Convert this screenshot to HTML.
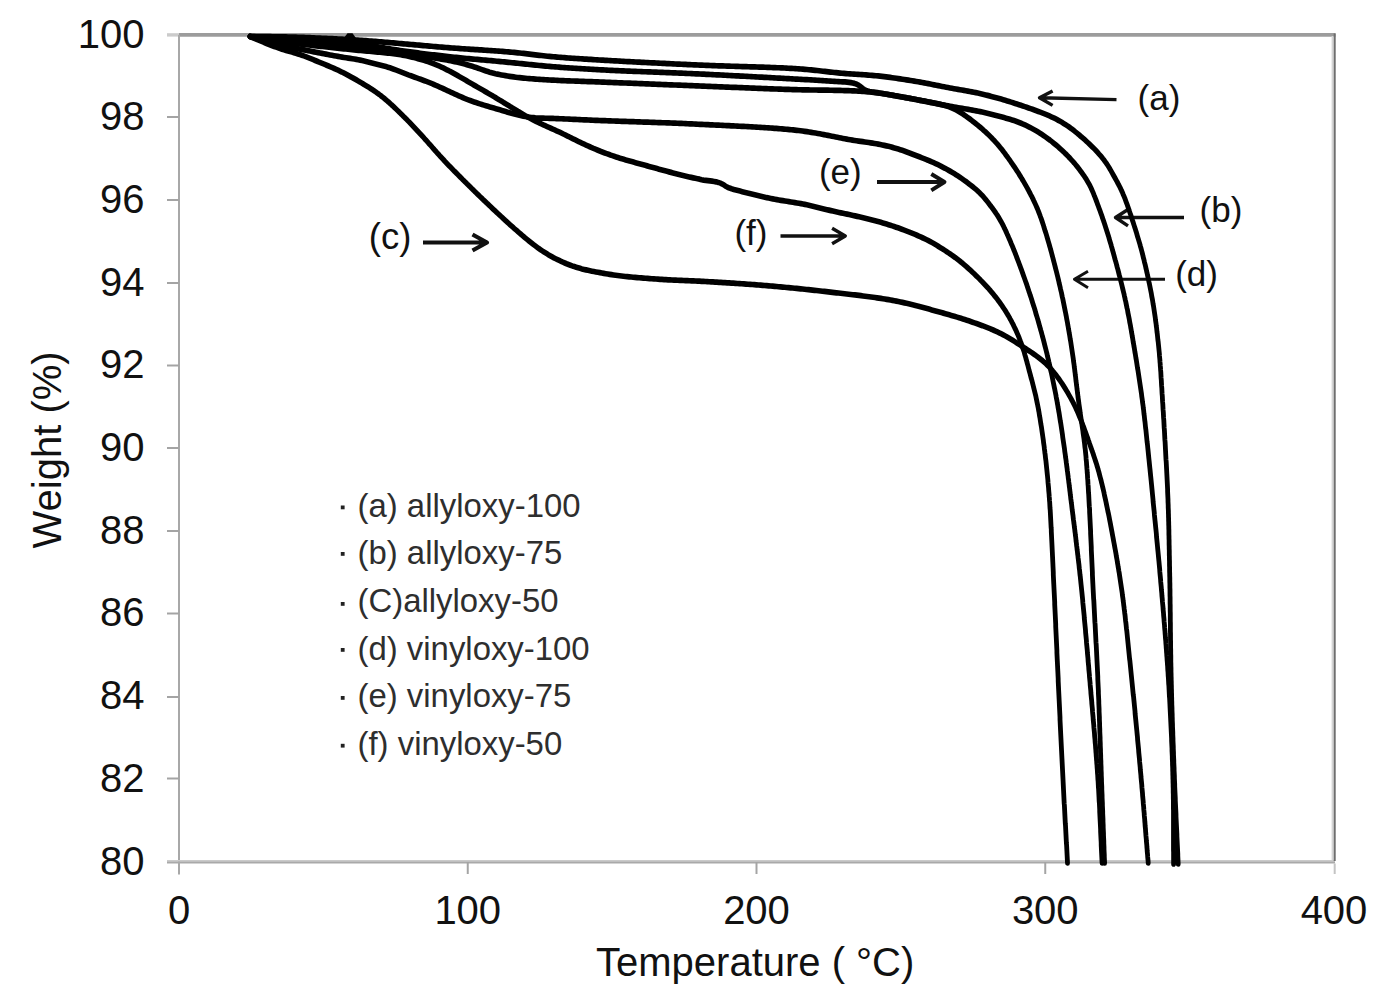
<!DOCTYPE html>
<html><head><meta charset="utf-8"><style>
html,body{margin:0;padding:0;background:#fff;width:1391px;height:1000px;overflow:hidden}
svg{position:absolute;left:0;top:0}
text{font-family:"Liberation Sans",sans-serif}
svg{fill:#111}
</style></head><body>
<svg width="1391" height="1000" viewBox="0 0 1391 1000">
<rect x="0" y="0" width="1391" height="1000" fill="#fff"/>
<!-- axes -->
<g fill="none">
<line x1="167" y1="34.9" x2="179" y2="34.9" stroke-width="3.4" stroke="#cbcbcb"/>
<line x1="179" y1="34.9" x2="1335.5" y2="34.9" stroke-width="3.6" stroke="#9c9c9c"/>
<line x1="179" y1="35" x2="179" y2="874.5" stroke-width="2" stroke="#a8a8a8"/>
<line x1="167" y1="860.8" x2="1335" y2="860.8" stroke-width="1.8" stroke="#cacaca"/>
<line x1="167" y1="862.6" x2="1335" y2="862.6" stroke-width="2" stroke="#a9a9a9"/>
<line x1="1332.6" y1="36" x2="1332.6" y2="860" stroke-width="2" stroke="#d4d4d4"/>
<line x1="1334.7" y1="33.5" x2="1334.7" y2="861" stroke-width="2" stroke="#6e6e6e"/>
<line x1="1334.7" y1="863.5" x2="1334.7" y2="874" stroke-width="2" stroke="#c4c4c4"/>
<g stroke-width="2" stroke="#a4a4a4">
<line x1="167" y1="117" x2="179" y2="117"/>
<line x1="167" y1="200" x2="179" y2="200"/>
<line x1="167" y1="283" x2="179" y2="283"/>
<line x1="167" y1="365.5" x2="179" y2="365.5"/>
<line x1="167" y1="448" x2="179" y2="448"/>
<line x1="167" y1="531" x2="179" y2="531"/>
<line x1="167" y1="613.5" x2="179" y2="613.5"/>
<line x1="167" y1="697" x2="179" y2="697"/>
<line x1="167" y1="778.5" x2="179" y2="778.5"/>
<line x1="467.75" y1="862" x2="467.75" y2="874"/>
<line x1="756.5" y1="862" x2="756.5" y2="874"/>
<line x1="1045.25" y1="862" x2="1045.25" y2="874"/>
</g>
</g>
<!-- y labels -->
<g font-size="40" text-anchor="end">
<text x="144.5" y="47.5">100</text>
<text x="144.5" y="130.2">98</text>
<text x="144.5" y="212.9">96</text>
<text x="144.5" y="295.6">94</text>
<text x="144.5" y="378.3">92</text>
<text x="144.5" y="461.0">90</text>
<text x="144.5" y="543.7">88</text>
<text x="144.5" y="626.4">86</text>
<text x="144.5" y="709.1">84</text>
<text x="144.5" y="791.8">82</text>
<text x="144.5" y="874.5">80</text>
</g>
<!-- x labels -->
<g font-size="40" text-anchor="middle">
<text x="179" y="923.5">0</text>
<text x="467.75" y="923.5">100</text>
<text x="756.5" y="923.5">200</text>
<text x="1045.25" y="923.5">300</text>
<text x="1334" y="923.5">400</text>
</g>
<text x="596" y="975.5" font-size="40">Temperature ( °C)</text>
<text transform="translate(60.8,548.5) rotate(-90)" font-size="40">Weight (%)</text>
<!-- legend -->
<g font-size="32.9" fill="#2e2e2e">
<text x="357.5" y="517">(a) allyloxy-100</text>
<text x="357.5" y="564">(b) allyloxy-75</text>
<text x="357.5" y="612">(C)allyloxy-50</text>
<text x="357.5" y="659.5">(d) vinyloxy-100</text>
<text x="357.5" y="707">(e) vinyloxy-75</text>
<text x="357.5" y="754.5">(f) vinyloxy-50</text>
</g>
<g fill="#222">
<rect x="340.8" y="505.5" width="3.8" height="3.8"/>
<rect x="340.8" y="552" width="3.8" height="3.8"/>
<rect x="340.8" y="602" width="3.8" height="3.8"/>
<rect x="340.8" y="648" width="3.8" height="3.8"/>
<rect x="340.8" y="696" width="3.8" height="3.8"/>
<rect x="340.8" y="743.8" width="3.8" height="3.8"/>
</g>
<!-- annotations -->
<g font-size="35">
<text x="1137.6" y="110.4">(a)</text>
<text x="1199.6" y="222.4">(b)</text>
<text x="368.8" y="248.8" font-size="36.5">(c)</text>
<text x="1175.2" y="286.4">(d)</text>
<text x="818.9" y="184.2">(e)</text>
<text x="734.4" y="244.6">(f)</text>
</g>
<g stroke="#111" stroke-width="3.4" fill="none" stroke-linecap="butt" stroke-linejoin="round">
<path d="M1116.5,99.6 L1040.5,97.8 M1052.6,91 L1039.5,97.8 L1052.6,105.4"/>
<path d="M1184,217.5 H1117 M1128,209.5 L1115.5,217.5 L1128,225.8"/>
<path d="M423,242.5 H485 M472.5,234.5 L487,242.5 L472.5,250.5" stroke-width="4.2"/>
<path d="M1165,279.3 H1076 M1088,271.2 L1074.4,279.3 L1088,287.8" stroke-width="2.9"/>
<path d="M877,182 H942.5 M931.3,174 L944.5,182 L931.3,190.3" stroke-width="3.9"/>
<path d="M780.5,236 H843.5 M832.1,228.3 L845.3,236 L832.1,243.8"/>
</g>
<!-- curves -->
<g stroke="#000" stroke-width="4.8" fill="none" stroke-linecap="round" stroke-linejoin="round" transform="scale(1,1.18)">
<path d="M250.0,30.93 L252.0,30.95 L254.1,30.96 L256.1,30.98 L258.2,30.99 L260.2,31.01 L262.3,31.02 L264.3,31.04 L266.3,31.05 L268.3,31.07 L270.3,31.09 L272.3,31.11 L274.3,31.13 L276.3,31.15 L278.2,31.17 L280.2,31.20 L282.2,31.23 L284.1,31.26 L286.1,31.30 L288.0,31.33 L290.0,31.37 L292.0,31.42 L293.9,31.46 L295.9,31.51 L297.9,31.56 L299.8,31.62 L301.8,31.68 L303.8,31.74 L305.8,31.81 L307.8,31.87 L309.9,31.94 L311.9,32.02 L314.0,32.09 L316.0,32.17 L318.1,32.25 L320.1,32.33 L322.2,32.40 L324.2,32.48 L326.2,32.56 L328.2,32.64 L330.2,32.72 L332.2,32.80 L334.2,32.88 L336.2,32.96 L338.2,33.04 L340.2,33.12 L342.2,33.21 L344.1,33.30 L346.1,33.39 L348.0,33.48 L350.0,33.58 L352.0,33.68 L353.9,33.78 L355.9,33.89 L357.8,34.00 L359.8,34.12 L361.8,34.24 L363.8,34.36 L365.8,34.48 L367.7,34.61 L369.7,34.73 L371.6,34.86 L373.6,34.99 L375.5,35.12 L377.4,35.25 L379.3,35.39 L381.3,35.52 L383.3,35.66 L385.2,35.80 L387.3,35.95 L389.3,36.09 L391.4,36.24 L393.4,36.39 L395.5,36.54 L397.5,36.69 L399.5,36.83 L401.5,36.98 L403.5,37.12 L405.4,37.26 L407.3,37.41 L409.2,37.55 L411.2,37.70 L413.1,37.84 L415.1,37.99 L417.1,38.14 L419.1,38.30 L421.2,38.45 L423.2,38.61 L425.3,38.76 L427.3,38.92 L429.4,39.07 L431.5,39.23 L433.6,39.38 L435.7,39.53 L437.7,39.68 L439.8,39.83 L441.9,39.98 L443.9,40.12 L446.0,40.26 L448.0,40.40 L450.0,40.54 L452.1,40.67 L454.2,40.80 L456.2,40.93 L458.3,41.06 L460.4,41.18 L462.5,41.30 L464.6,41.42 L466.8,41.54 L468.9,41.66 L471.0,41.78 L473.1,41.89 L475.2,42.00 L477.3,42.11 L479.4,42.22 L481.4,42.33 L483.5,42.44 L485.4,42.55 L487.4,42.66 L489.3,42.76 L491.2,42.87 L493.1,42.98 L494.9,43.09 L496.8,43.20 L498.7,43.32 L500.5,43.44 L502.5,43.57 L504.4,43.70 L506.3,43.84 L508.3,43.98 L510.2,44.13 L512.1,44.28 L514.1,44.43 L516.0,44.59 L517.9,44.76 L519.8,44.93 L521.7,45.10 L523.6,45.28 L525.5,45.47 L527.4,45.66 L529.4,45.86 L531.3,46.06 L533.3,46.26 L535.3,46.47 L537.3,46.67 L539.3,46.88 L541.4,47.08 L543.4,47.27 L545.5,47.46 L547.5,47.64 L549.5,47.81 L551.5,47.97 L553.4,48.12 L555.3,48.26 L557.1,48.39 L559.0,48.52 L560.8,48.65 L562.7,48.77 L564.5,48.89 L566.4,49.01 L568.4,49.13 L570.3,49.24 L572.2,49.36 L574.2,49.47 L576.2,49.59 L578.3,49.70 L580.3,49.81 L582.4,49.93 L584.5,50.04 L586.6,50.15 L588.8,50.27 L590.9,50.38 L593.1,50.49 L595.2,50.60 L597.3,50.71 L599.3,50.81 L601.3,50.91 L603.2,51.01 L605.0,51.10 L606.9,51.19 L608.7,51.28 L610.5,51.37 L612.3,51.46 L614.2,51.54 L616.0,51.63 L617.9,51.72 L619.8,51.81 L621.7,51.90 L623.6,51.99 L625.6,52.08 L627.5,52.17 L629.5,52.26 L631.5,52.35 L633.5,52.44 L635.5,52.53 L637.6,52.62 L639.6,52.71 L641.7,52.80 L643.7,52.89 L645.8,52.98 L647.9,53.07 L650.0,53.16 L652.1,53.25 L654.2,53.33 L656.3,53.42 L658.4,53.51 L660.5,53.60 L662.6,53.69 L664.7,53.77 L666.8,53.86 L668.9,53.95 L671.0,54.03 L673.1,54.12 L675.2,54.20 L677.3,54.29 L679.4,54.37 L681.5,54.45 L683.6,54.54 L685.7,54.62 L687.7,54.70 L689.8,54.78 L691.9,54.86 L693.9,54.93 L695.9,55.01 L698.0,55.09 L700.0,55.16 L702.0,55.24 L704.1,55.31 L706.1,55.38 L708.2,55.45 L710.3,55.52 L712.3,55.58 L714.4,55.65 L716.5,55.71 L718.6,55.77 L720.8,55.83 L722.9,55.89 L725.0,55.95 L727.1,56.01 L729.3,56.07 L731.4,56.12 L733.6,56.18 L735.7,56.23 L737.9,56.29 L740.0,56.34 L742.2,56.40 L744.3,56.45 L746.4,56.50 L748.5,56.56 L750.7,56.61 L752.8,56.67 L754.9,56.72 L757.0,56.78 L759.1,56.83 L761.1,56.89 L763.2,56.95 L765.2,57.01 L767.3,57.06 L769.3,57.12 L771.3,57.19 L773.2,57.25 L775.2,57.31 L777.1,57.38 L779.0,57.45 L780.9,57.51 L782.8,57.58 L784.6,57.66 L786.4,57.73 L788.2,57.81 L790.0,57.89 L791.7,57.97 L793.5,58.05 L795.3,58.15 L797.1,58.25 L798.9,58.36 L800.8,58.48 L802.8,58.61 L804.8,58.75 L806.9,58.91 L809.0,59.07 L811.1,59.24 L813.1,59.42 L815.2,59.60 L817.1,59.79 L819.1,59.97 L821.0,60.16 L822.9,60.35 L824.8,60.54 L826.7,60.72 L828.6,60.91 L830.5,61.09 L832.4,61.26 L834.3,61.43 L836.2,61.60 L838.1,61.76 L840.1,61.91 L842.0,62.06 L844.0,62.20 L846.0,62.33 L848.0,62.46 L850.0,62.58 L852.0,62.69 L854.0,62.80 L856.0,62.91 L858.0,63.02 L860.0,63.13 L862.0,63.25 L864.0,63.36 L866.0,63.48 L868.0,63.61 L870.0,63.74 L872.0,63.88 L874.0,64.03 L876.0,64.19 L878.0,64.36 L880.0,64.54 L882.0,64.74 L884.1,64.94 L886.1,65.15 L888.1,65.37 L890.2,65.60 L892.2,65.84 L894.2,66.08 L896.3,66.33 L898.3,66.59 L900.3,66.85 L902.4,67.11 L904.4,67.38 L906.4,67.65 L908.4,67.93 L910.4,68.20 L912.3,68.48 L914.3,68.76 L916.3,69.05 L918.2,69.34 L920.2,69.64 L922.2,69.94 L924.2,70.25 L926.2,70.57 L928.3,70.90 L930.3,71.23 L932.3,71.56 L934.2,71.90 L936.2,72.23 L938.2,72.57 L940.2,72.91 L942.1,73.24 L944.1,73.57 L946.1,73.90 L948.0,74.22 L950.0,74.54 L952.0,74.85 L953.9,75.15 L955.9,75.44 L957.9,75.74 L959.9,76.02 L961.8,76.31 L963.8,76.60 L965.8,76.89 L967.8,77.19 L969.8,77.51 L971.8,77.83 L973.8,78.17 L975.8,78.52 L977.8,78.88 L979.7,79.25 L981.7,79.63 L983.7,80.03 L985.6,80.43 L987.5,80.84 L989.5,81.26 L991.4,81.69 L993.3,82.13 L995.3,82.59 L997.3,83.05 L999.2,83.52 L1001.2,84.00 L1003.2,84.50 L1005.2,85.00 L1007.2,85.51 L1009.2,86.03 L1011.1,86.55 L1013.1,87.08 L1015.1,87.62 L1017.0,88.16 L1019.0,88.71 L1020.9,89.26 L1022.8,89.82 L1024.8,90.37 L1026.7,90.93 L1028.6,91.50 L1030.6,92.07 L1032.5,92.65 L1034.4,93.24 L1036.4,93.83 L1038.3,94.43 L1040.2,95.04 L1042.1,95.67 L1044.0,96.30 L1045.9,96.95 L1047.7,97.60 L1049.5,98.28 L1051.3,98.97 L1053.1,99.68 L1054.9,100.41 L1056.7,101.17 L1058.4,101.97 L1060.1,102.79 L1061.9,103.66 L1063.6,104.57 L1065.4,105.50 L1067.1,106.47 L1068.8,107.47 L1070.5,108.49 L1072.1,109.53 L1073.7,110.58 L1075.3,111.65 L1076.9,112.73 L1078.5,113.82 L1080.0,114.92 L1081.5,116.04 L1083.1,117.17 L1084.6,118.31 L1086.1,119.47 L1087.6,120.66 L1089.1,121.87 L1090.6,123.09 L1092.1,124.33 L1093.6,125.59 L1095.1,126.85 L1096.5,128.13 L1097.9,129.41 L1099.2,130.70 L1100.6,132.01 L1101.9,133.33 L1103.1,134.68 L1104.4,136.06 L1105.6,137.47 L1106.8,138.92 L1107.9,140.40 L1109.0,141.90 L1110.1,143.42 L1111.1,144.93 L1112.1,146.45 L1113.1,147.96 L1114.1,149.47 L1115.1,150.98 L1116.1,152.50 L1117.1,154.01 L1118.0,155.53 L1119.0,157.06 L1119.9,158.59 L1120.8,160.13 L1121.6,161.68 L1122.5,163.24 L1123.2,164.81 L1124.0,166.39 L1124.8,167.99 L1125.5,169.61 L1126.2,171.23 L1126.9,172.86 L1127.6,174.49 L1128.3,176.14 L1129.0,177.79 L1129.6,179.45 L1130.3,181.13 L1131.0,182.80 L1131.6,184.48 L1132.2,186.14 L1132.9,187.78 L1133.5,189.40 L1134.1,191.00 L1134.7,192.58 L1135.3,194.16 L1135.9,195.74 L1136.5,197.33 L1137.0,198.94 L1137.6,200.58 L1138.2,202.23 L1138.8,203.91 L1139.4,205.60 L1140.0,207.30 L1140.5,208.98 L1141.1,210.65 L1141.6,212.29 L1142.1,213.91 L1142.6,215.51 L1143.0,217.09 L1143.5,218.67 L1144.0,220.27 L1144.4,221.87 L1144.9,223.49 L1145.4,225.13 L1145.8,226.79 L1146.3,228.47 L1146.7,230.16 L1147.2,231.86 L1147.6,233.58 L1148.1,235.30 L1148.5,237.03 L1148.9,238.76 L1149.4,240.49 L1149.8,242.23 L1150.2,243.96 L1150.6,245.69 L1151.0,247.41 L1151.4,249.12 L1151.7,250.83 L1152.1,252.53 L1152.5,254.23 L1152.8,255.93 L1153.1,257.62 L1153.5,259.31 L1153.8,261.00 L1154.1,262.69 L1154.4,264.38 L1154.7,266.08 L1155.0,267.77 L1155.3,269.46 L1155.5,271.16 L1155.8,272.85 L1156.1,274.55 L1156.3,276.25 L1156.6,277.94 L1156.8,279.64 L1157.0,281.33 L1157.3,283.03 L1157.5,284.73 L1157.7,286.43 L1157.9,288.12 L1158.2,289.82 L1158.4,291.52 L1158.6,293.21 L1158.8,294.91 L1159.0,296.60 L1159.2,298.30 L1159.4,299.99 L1159.5,301.69 L1159.7,303.38 L1159.9,305.08 L1160.0,306.77 L1160.2,308.47 L1160.3,310.16 L1160.5,311.86 L1160.6,313.55 L1160.8,315.25 L1160.9,316.94 L1161.0,318.64 L1161.1,320.33 L1161.3,322.03 L1161.4,323.72 L1161.5,325.42 L1161.6,327.11 L1161.8,328.81 L1161.9,330.51 L1162.0,332.20 L1162.1,333.90 L1162.3,335.59 L1162.4,337.29 L1162.5,338.98 L1162.6,340.68 L1162.8,342.37 L1162.9,344.07 L1163.0,345.76 L1163.1,347.46 L1163.3,349.15 L1163.4,350.85 L1163.5,352.54 L1163.6,354.24 L1163.8,355.93 L1163.9,357.63 L1164.0,359.32 L1164.1,361.02 L1164.2,362.71 L1164.4,364.41 L1164.5,366.10 L1164.6,367.80 L1164.7,369.49 L1164.8,371.19 L1164.9,372.88 L1165.1,374.57 L1165.2,376.27 L1165.3,377.96 L1165.4,379.64 L1165.5,381.33 L1165.6,383.00 L1165.7,384.67 L1165.8,386.34 L1165.9,387.99 L1166.0,389.64 L1166.2,391.29 L1166.3,392.93 L1166.4,394.57 L1166.5,396.20 L1166.6,397.84 L1166.7,399.48 L1166.8,401.13 L1166.9,402.78 L1167.0,404.45 L1167.1,406.12 L1167.2,407.81 L1167.3,409.51 L1167.4,411.22 L1167.5,412.95 L1167.6,414.69 L1167.6,416.44 L1167.7,418.19 L1167.8,419.94 L1167.9,421.66 L1168.0,423.35 L1168.0,425.01 L1168.1,426.65 L1168.2,428.25 L1168.2,429.84 L1168.3,431.43 L1168.4,433.01 L1168.4,434.60 L1168.5,436.20 L1168.5,437.81 L1168.6,439.43 L1168.6,441.07 L1168.7,442.71 L1168.7,444.36 L1168.8,446.02 L1168.8,447.70 L1168.9,449.38 L1168.9,451.07 L1168.9,452.77 L1169.0,454.48 L1169.0,456.19 L1169.1,457.92 L1169.1,459.65 L1169.1,461.38 L1169.2,463.13 L1169.2,464.87 L1169.3,466.63 L1169.3,468.39 L1169.3,470.15 L1169.4,471.92 L1169.4,473.69 L1169.5,475.46 L1169.5,477.24 L1169.5,479.02 L1169.6,480.80 L1169.6,482.58 L1169.6,484.35 L1169.7,486.12 L1169.7,487.87 L1169.8,489.60 L1169.8,491.32 L1169.8,493.01 L1169.9,494.68 L1169.9,496.34 L1169.9,497.99 L1170.0,499.63 L1170.0,501.28 L1170.0,502.93 L1170.0,504.58 L1170.1,506.23 L1170.1,507.89 L1170.1,509.56 L1170.1,511.23 L1170.2,512.91 L1170.2,514.59 L1170.2,516.27 L1170.2,517.96 L1170.3,519.66 L1170.3,521.35 L1170.3,523.05 L1170.3,524.76 L1170.3,526.46 L1170.4,528.17 L1170.4,529.89 L1170.4,531.60 L1170.4,533.32 L1170.4,535.04 L1170.5,536.76 L1170.5,538.48 L1170.5,540.20 L1170.5,541.92 L1170.6,543.65 L1170.6,545.37 L1170.6,547.10 L1170.6,548.82 L1170.7,550.55 L1170.7,552.27 L1170.7,554.00 L1170.8,555.72 L1170.8,557.44 L1170.8,559.17 L1170.8,560.88 L1170.9,562.60 L1170.9,564.32 L1171.0,566.03 L1171.0,567.74 L1171.0,569.45 L1171.1,571.16 L1171.1,572.86 L1171.2,574.57 L1171.2,576.27 L1171.3,577.97 L1171.3,579.67 L1171.4,581.38 L1171.4,583.08 L1171.5,584.79 L1171.5,586.50 L1171.6,588.21 L1171.6,589.92 L1171.7,591.63 L1171.7,593.35 L1171.8,595.06 L1171.8,596.78 L1171.9,598.49 L1172.0,600.21 L1172.0,601.93 L1172.1,603.65 L1172.2,605.37 L1172.2,607.09 L1172.3,608.81 L1172.3,610.52 L1172.4,612.24 L1172.5,613.96 L1172.5,615.67 L1172.6,617.39 L1172.7,619.10 L1172.8,620.81 L1172.8,622.52 L1172.9,624.23 L1173.0,625.94 L1173.0,627.64 L1173.1,629.34 L1173.2,631.04 L1173.3,632.74 L1173.3,634.43 L1173.4,636.12 L1173.5,637.81 L1173.5,639.49 L1173.6,641.17 L1173.7,642.85 L1173.8,644.52 L1173.8,646.19 L1173.9,647.86 L1174.0,649.52 L1174.1,651.17 L1174.1,652.83 L1174.2,654.48 L1174.3,656.14 L1174.4,657.80 L1174.4,659.48 L1174.5,661.17 L1174.6,662.87 L1174.7,664.58 L1174.7,666.30 L1174.8,668.03 L1174.9,669.76 L1175.0,671.49 L1175.1,673.22 L1175.2,674.94 L1175.3,676.66 L1175.3,678.38 L1175.4,680.09 L1175.5,681.79 L1175.6,683.49 L1175.7,685.19 L1175.8,686.89 L1175.9,688.58 L1176.0,690.26 L1176.0,691.95 L1176.1,693.63 L1176.2,695.31 L1176.3,696.99 L1176.4,698.67 L1176.5,700.34 L1176.6,702.02 L1176.7,703.69 L1176.8,705.36 L1176.9,707.03 L1176.9,708.70 L1177.0,710.38 L1177.1,712.05 L1177.2,713.72 L1177.3,715.39 L1177.4,717.07 L1177.5,718.74 L1177.6,720.42 L1177.7,722.10 L1177.8,723.78 L1177.8,725.46 L1177.9,727.14 L1178.0,728.83 L1178.1,730.52 L1178.2,732.20"/>
<path d="M250.0,30.93 L252.0,31.01 L254.1,31.10 L256.1,31.18 L258.2,31.26 L260.2,31.34 L262.3,31.43 L264.3,31.51 L266.3,31.59 L268.3,31.68 L270.3,31.77 L272.3,31.86 L274.3,31.95 L276.2,32.04 L278.2,32.14 L280.1,32.25 L282.1,32.35 L284.0,32.47 L285.9,32.58 L287.8,32.70 L289.8,32.82 L291.7,32.94 L293.6,33.06 L295.6,33.18 L297.5,33.29 L299.4,33.40 L301.3,33.50 L303.2,33.60 L305.0,33.69 L306.9,33.78 L308.8,33.86 L310.7,33.94 L312.6,34.02 L314.6,34.10 L316.5,34.18 L318.6,34.26 L320.6,34.34 L322.7,34.42 L324.8,34.51 L326.9,34.60 L329.0,34.70 L331.1,34.80 L333.2,34.91 L335.3,35.03 L337.5,35.15 L339.6,35.28 L341.7,35.43 L343.8,35.58 L345.8,35.74 L347.9,35.91 L349.9,36.09 L352.0,36.29 L354.0,36.50 L356.0,36.71 L358.0,36.94 L360.0,37.19 L362.0,37.44 L364.0,37.70 L366.0,37.96 L368.0,38.24 L370.0,38.52 L372.0,38.80 L374.0,39.09 L375.9,39.39 L377.9,39.68 L379.9,39.98 L381.9,40.27 L383.9,40.56 L385.9,40.86 L387.9,41.14 L389.9,41.43 L391.9,41.70 L394.0,41.98 L396.0,42.24 L398.0,42.50 L400.0,42.76 L402.0,43.00 L404.0,43.25 L406.0,43.49 L408.0,43.72 L410.0,43.95 L412.0,44.18 L414.0,44.41 L416.0,44.63 L418.0,44.86 L420.0,45.08 L422.0,45.29 L424.0,45.51 L426.0,45.72 L428.1,45.93 L430.1,46.14 L432.1,46.35 L434.1,46.56 L436.1,46.76 L438.1,46.96 L440.1,47.16 L442.1,47.35 L444.1,47.54 L446.1,47.74 L448.1,47.93 L450.1,48.11 L452.2,48.30 L454.2,48.48 L456.3,48.67 L458.3,48.85 L460.4,49.03 L462.5,49.20 L464.6,49.38 L466.8,49.55 L468.9,49.72 L471.0,49.89 L473.1,50.05 L475.2,50.22 L477.3,50.38 L479.4,50.53 L481.4,50.69 L483.4,50.84 L485.4,50.99 L487.3,51.14 L489.3,51.29 L491.2,51.43 L493.1,51.58 L494.9,51.73 L496.8,51.87 L498.7,52.03 L500.6,52.18 L502.5,52.33 L504.4,52.49 L506.3,52.65 L508.3,52.82 L510.2,52.98 L512.1,53.14 L514.1,53.31 L516.0,53.47 L517.9,53.64 L519.8,53.80 L521.7,53.97 L523.6,54.14 L525.5,54.31 L527.5,54.47 L529.4,54.65 L531.3,54.82 L533.3,54.99 L535.3,55.16 L537.3,55.33 L539.3,55.50 L541.4,55.67 L543.4,55.83 L545.5,55.99 L547.5,56.14 L549.5,56.29 L551.4,56.43 L553.3,56.57 L555.2,56.70 L557.1,56.82 L559.0,56.94 L560.8,57.06 L562.7,57.18 L564.6,57.29 L566.5,57.41 L568.4,57.52 L570.3,57.63 L572.3,57.74 L574.3,57.85 L576.3,57.96 L578.3,58.07 L580.4,58.18 L582.4,58.29 L584.5,58.40 L586.7,58.51 L588.8,58.61 L590.9,58.72 L593.1,58.82 L595.1,58.92 L597.2,59.01 L599.2,59.11 L601.2,59.20 L603.1,59.28 L605.0,59.36 L606.8,59.44 L608.7,59.52 L610.5,59.59 L612.3,59.66 L614.2,59.73 L616.0,59.81 L617.9,59.88 L619.8,59.95 L621.7,60.02 L623.7,60.09 L625.6,60.15 L627.6,60.22 L629.5,60.29 L631.5,60.36 L633.5,60.43 L635.6,60.50 L637.6,60.56 L639.6,60.63 L641.7,60.70 L643.7,60.77 L645.8,60.84 L647.9,60.90 L650.0,60.97 L652.1,61.04 L654.2,61.11 L656.3,61.18 L658.4,61.24 L660.5,61.31 L662.6,61.38 L664.7,61.45 L666.8,61.52 L668.9,61.59 L671.0,61.66 L673.1,61.73 L675.2,61.81 L677.3,61.88 L679.4,61.95 L681.5,62.02 L683.6,62.10 L685.7,62.17 L687.7,62.25 L689.8,62.32 L691.8,62.40 L693.9,62.48 L695.9,62.56 L698.0,62.64 L700.0,62.72 L702.1,62.80 L704.1,62.88 L706.2,62.97 L708.3,63.05 L710.4,63.14 L712.5,63.23 L714.6,63.32 L716.7,63.41 L718.8,63.50 L721.0,63.59 L723.2,63.68 L725.3,63.78 L727.5,63.87 L729.7,63.97 L731.9,64.06 L734.0,64.16 L736.2,64.26 L738.4,64.35 L740.6,64.45 L742.8,64.55 L745.0,64.65 L747.1,64.74 L749.3,64.84 L751.4,64.94 L753.6,65.04 L755.7,65.13 L757.8,65.23 L759.9,65.33 L762.0,65.42 L764.1,65.52 L766.1,65.61 L768.2,65.71 L770.2,65.80 L772.2,65.89 L774.1,65.98 L776.1,66.07 L778.0,66.16 L779.9,66.25 L781.7,66.34 L783.5,66.42 L785.3,66.51 L787.1,66.59 L788.8,66.67 L790.5,66.75 L792.2,66.83 L794.0,66.92 L795.7,67.00 L797.4,67.08 L799.3,67.16 L801.1,67.25 L803.1,67.34 L805.0,67.43 L807.0,67.53 L809.0,67.62 L811.1,67.72 L813.1,67.81 L815.0,67.90 L817.0,68.00 L818.9,68.10 L820.8,68.20 L822.7,68.30 L824.6,68.40 L826.5,68.50 L828.4,68.61 L830.4,68.72 L832.4,68.83 L834.4,68.94 L836.5,69.05 L838.6,69.17 L840.6,69.30 L842.7,69.44 L845.0,69.44 L847.0,69.59 L849.0,69.77 L850.9,70.00 L852.7,70.29 L854.4,70.66 L856.1,71.18 L857.9,71.91 L859.6,72.84 L861.2,73.87 L862.7,74.89 L864.3,75.82 L866.0,76.57 L867.8,77.13 L869.6,77.52 L871.4,77.81 L873.4,78.04 L875.5,78.27 L877.6,78.51 L879.4,78.78 L881.3,79.06 L883.2,79.34 L885.1,79.62 L887.0,79.90 L889.0,80.19 L891.0,80.49 L893.0,80.80 L895.0,81.11 L897.1,81.42 L899.2,81.75 L901.3,82.07 L903.4,82.40 L905.6,82.73 L907.7,83.06 L909.8,83.39 L911.9,83.72 L914.0,84.05 L916.0,84.38 L918.1,84.71 L920.1,85.04 L922.2,85.38 L924.2,85.71 L926.2,86.05 L928.2,86.39 L930.2,86.74 L932.2,87.08 L934.2,87.42 L936.2,87.76 L938.2,88.10 L940.2,88.43 L942.1,88.76 L944.1,89.09 L946.1,89.41 L948.1,89.73 L950.1,90.05 L952.1,90.36 L954.1,90.67 L956.2,90.97 L958.2,91.26 L960.2,91.56 L962.3,91.85 L964.3,92.14 L966.3,92.43 L968.3,92.72 L970.3,93.02 L972.3,93.32 L974.3,93.63 L976.3,93.95 L978.3,94.28 L980.3,94.63 L982.2,94.99 L984.2,95.37 L986.2,95.76 L988.2,96.16 L990.2,96.57 L992.2,96.99 L994.1,97.42 L996.1,97.86 L998.1,98.30 L1000.1,98.75 L1002.1,99.21 L1004.0,99.67 L1006.0,100.14 L1008.0,100.63 L1010.0,101.13 L1012.0,101.66 L1014.0,102.20 L1016.0,102.78 L1017.9,103.38 L1019.8,104.02 L1021.8,104.69 L1023.7,105.39 L1025.5,106.12 L1027.4,106.88 L1029.3,107.67 L1031.1,108.49 L1032.9,109.32 L1034.7,110.18 L1036.5,111.06 L1038.2,111.96 L1040.0,112.89 L1041.7,113.83 L1043.4,114.79 L1045.1,115.78 L1046.8,116.79 L1048.4,117.82 L1050.1,118.86 L1051.7,119.93 L1053.3,121.02 L1054.9,122.13 L1056.5,123.25 L1058.1,124.39 L1059.6,125.55 L1061.1,126.73 L1062.7,127.92 L1064.2,129.12 L1065.6,130.34 L1067.1,131.57 L1068.5,132.82 L1070.0,134.09 L1071.3,135.37 L1072.7,136.67 L1074.1,137.98 L1075.4,139.31 L1076.7,140.65 L1078.0,142.01 L1079.2,143.37 L1080.4,144.74 L1081.6,146.13 L1082.8,147.52 L1084.0,148.93 L1085.1,150.35 L1086.2,151.78 L1087.2,153.23 L1088.2,154.69 L1089.2,156.18 L1090.1,157.67 L1091.0,159.19 L1091.8,160.72 L1092.6,162.26 L1093.4,163.82 L1094.1,165.39 L1094.9,166.97 L1095.6,168.55 L1096.3,170.14 L1097.0,171.72 L1097.7,173.32 L1098.4,174.91 L1099.1,176.52 L1099.8,178.13 L1100.5,179.76 L1101.2,181.39 L1101.9,183.03 L1102.5,184.66 L1103.2,186.29 L1103.8,187.91 L1104.5,189.52 L1105.1,191.12 L1105.7,192.71 L1106.3,194.30 L1106.9,195.89 L1107.5,197.49 L1108.1,199.10 L1108.7,200.72 L1109.2,202.36 L1109.8,204.01 L1110.4,205.67 L1111.0,207.34 L1111.5,209.00 L1112.1,210.65 L1112.6,212.28 L1113.2,213.90 L1113.7,215.50 L1114.2,217.10 L1114.7,218.69 L1115.2,220.29 L1115.8,221.90 L1116.3,223.53 L1116.8,225.17 L1117.3,226.83 L1117.9,228.50 L1118.4,230.19 L1118.9,231.89 L1119.4,233.60 L1120.0,235.32 L1120.5,237.04 L1121.0,238.77 L1121.5,240.50 L1122.0,242.23 L1122.5,243.95 L1123.0,245.68 L1123.5,247.40 L1124.0,249.11 L1124.4,250.82 L1124.9,252.53 L1125.3,254.23 L1125.8,255.92 L1126.2,257.62 L1126.6,259.31 L1127.0,261.00 L1127.5,262.69 L1127.8,264.39 L1128.2,266.08 L1128.6,267.77 L1129.0,269.47 L1129.4,271.16 L1129.7,272.86 L1130.1,274.55 L1130.5,276.25 L1130.8,277.94 L1131.2,279.64 L1131.5,281.34 L1131.9,283.03 L1132.2,284.73 L1132.6,286.43 L1132.9,288.12 L1133.2,289.82 L1133.6,291.52 L1133.9,293.21 L1134.3,294.91 L1134.6,296.60 L1134.9,298.30 L1135.3,299.99 L1135.6,301.69 L1135.9,303.38 L1136.3,305.08 L1136.6,306.77 L1136.9,308.46 L1137.2,310.16 L1137.5,311.85 L1137.9,313.55 L1138.2,315.24 L1138.5,316.94 L1138.8,318.63 L1139.1,320.33 L1139.4,322.02 L1139.7,323.72 L1140.0,325.41 L1140.3,327.11 L1140.6,328.80 L1140.9,330.50 L1141.2,332.20 L1141.5,333.89 L1141.7,335.59 L1142.0,337.28 L1142.3,338.98 L1142.5,340.67 L1142.8,342.37 L1143.1,344.06 L1143.3,345.76 L1143.6,347.45 L1143.8,349.15 L1144.0,350.84 L1144.3,352.53 L1144.5,354.23 L1144.7,355.92 L1145.0,357.62 L1145.2,359.31 L1145.4,361.01 L1145.6,362.70 L1145.9,364.40 L1146.1,366.10 L1146.3,367.79 L1146.5,369.49 L1146.7,371.18 L1146.9,372.88 L1147.1,374.57 L1147.4,376.26 L1147.6,377.95 L1147.8,379.64 L1148.0,381.32 L1148.2,382.99 L1148.4,384.66 L1148.6,386.33 L1148.8,387.98 L1149.0,389.63 L1149.2,391.28 L1149.4,392.92 L1149.6,394.56 L1149.8,396.20 L1150.0,397.85 L1150.2,399.49 L1150.4,401.14 L1150.6,402.80 L1150.8,404.46 L1151.0,406.14 L1151.2,407.83 L1151.4,409.53 L1151.6,411.24 L1151.8,412.97 L1152.0,414.70 L1152.2,416.44 L1152.4,418.18 L1152.6,419.91 L1152.8,421.62 L1153.0,423.31 L1153.1,424.97 L1153.3,426.61 L1153.5,428.23 L1153.7,429.83 L1153.9,431.43 L1154.1,433.02 L1154.3,434.62 L1154.4,436.22 L1154.6,437.83 L1154.8,439.45 L1155.0,441.08 L1155.2,442.72 L1155.4,444.38 L1155.6,446.04 L1155.8,447.71 L1156.0,449.39 L1156.2,451.08 L1156.4,452.78 L1156.5,454.49 L1156.7,456.20 L1156.9,457.93 L1157.1,459.65 L1157.3,461.39 L1157.5,463.13 L1157.7,464.88 L1157.9,466.63 L1158.1,468.39 L1158.3,470.15 L1158.5,471.92 L1158.7,473.69 L1158.9,475.46 L1159.1,477.24 L1159.3,479.02 L1159.5,480.79 L1159.7,482.57 L1159.8,484.33 L1160.0,486.09 L1160.2,487.84 L1160.4,489.57 L1160.6,491.28 L1160.7,492.98 L1160.9,494.66 L1161.1,496.32 L1161.3,497.98 L1161.4,499.63 L1161.6,501.28 L1161.8,502.93 L1161.9,504.58 L1162.1,506.24 L1162.3,507.90 L1162.4,509.56 L1162.6,511.23 L1162.8,512.91 L1163.0,514.59 L1163.1,516.27 L1163.3,517.96 L1163.5,519.65 L1163.6,521.35 L1163.8,523.05 L1164.0,524.75 L1164.1,526.46 L1164.3,528.17 L1164.5,529.88 L1164.6,531.59 L1164.8,533.31 L1165.0,535.03 L1165.1,536.75 L1165.3,538.47 L1165.4,540.19 L1165.6,541.92 L1165.8,543.64 L1165.9,545.36 L1166.1,547.09 L1166.2,548.81 L1166.4,550.54 L1166.5,552.26 L1166.7,553.99 L1166.8,555.71 L1167.0,557.43 L1167.1,559.16 L1167.3,560.88 L1167.4,562.59 L1167.6,564.31 L1167.7,566.02 L1167.8,567.74 L1168.0,569.45 L1168.1,571.15 L1168.2,572.86 L1168.4,574.56 L1168.5,576.27 L1168.6,577.97 L1168.7,579.67 L1168.9,581.38 L1169.0,583.08 L1169.1,584.79 L1169.2,586.49 L1169.3,588.20 L1169.4,589.91 L1169.6,591.63 L1169.7,593.34 L1169.8,595.05 L1169.9,596.77 L1170.0,598.49 L1170.1,600.20 L1170.2,601.92 L1170.3,603.64 L1170.4,605.36 L1170.5,607.08 L1170.6,608.79 L1170.7,610.51 L1170.8,612.23 L1170.9,613.95 L1171.0,615.66 L1171.1,617.38 L1171.2,619.09 L1171.3,620.80 L1171.4,622.51 L1171.5,624.22 L1171.6,625.92 L1171.6,627.63 L1171.7,629.33 L1171.8,631.03 L1171.9,632.73 L1172.0,634.42 L1172.0,636.11 L1172.1,637.80 L1172.2,639.48 L1172.3,641.16 L1172.3,642.84 L1172.4,644.51 L1172.5,646.18 L1172.5,647.85 L1172.6,649.51 L1172.7,651.17 L1172.7,652.83 L1172.8,654.49 L1172.8,656.15 L1172.9,657.82 L1172.9,659.50 L1173.0,661.18 L1173.0,662.88 L1173.1,664.59 L1173.1,666.31 L1173.2,668.03 L1173.2,669.76 L1173.2,671.49 L1173.3,673.21 L1173.3,674.93 L1173.3,676.65 L1173.4,678.37 L1173.4,680.08 L1173.4,681.78 L1173.4,683.48 L1173.4,685.18 L1173.5,686.88 L1173.5,688.57 L1173.5,690.26 L1173.5,691.94 L1173.5,693.62 L1173.5,695.31 L1173.5,696.98 L1173.5,698.66 L1173.5,700.34 L1173.5,702.01 L1173.5,703.69 L1173.5,705.36 L1173.5,707.03 L1173.5,708.70 L1173.5,710.37 L1173.5,712.05 L1173.5,713.72 L1173.5,715.39 L1173.5,717.07 L1173.5,718.74 L1173.5,720.42 L1173.6,722.10 L1173.6,723.78 L1173.6,725.46 L1173.6,727.15 L1173.6,728.83 L1173.6,730.52 L1173.6,732.20"/>
<path d="M250.0,30.93 L252.0,31.11 L254.1,31.28 L256.1,31.45 L258.2,31.62 L260.2,31.80 L262.3,31.97 L264.3,32.14 L266.3,32.32 L268.3,32.49 L270.3,32.66 L272.3,32.82 L274.3,32.99 L276.3,33.16 L278.2,33.32 L280.1,33.49 L282.1,33.65 L284.0,33.82 L285.9,33.98 L287.8,34.15 L289.8,34.31 L291.7,34.47 L293.6,34.64 L295.6,34.80 L297.5,34.96 L299.4,35.11 L301.3,35.26 L303.2,35.40 L305.0,35.54 L306.9,35.68 L308.7,35.81 L310.6,35.95 L312.5,36.09 L314.5,36.22 L316.5,36.36 L318.5,36.50 L320.6,36.65 L322.6,36.80 L324.7,36.95 L326.8,37.10 L329.0,37.25 L331.1,37.41 L333.2,37.57 L335.3,37.74 L337.5,37.91 L339.6,38.08 L341.7,38.26 L343.8,38.44 L345.8,38.62 L347.9,38.81 L349.9,39.00 L352.0,39.20 L354.0,39.41 L356.0,39.61 L358.0,39.83 L360.0,40.04 L362.0,40.26 L364.0,40.49 L366.0,40.72 L368.0,40.95 L370.0,41.18 L372.0,41.42 L374.0,41.66 L376.0,41.91 L377.9,42.15 L379.9,42.40 L381.9,42.65 L383.9,42.90 L385.9,43.15 L387.9,43.40 L390.0,43.65 L392.0,43.90 L394.0,44.16 L396.0,44.41 L398.0,44.66 L400.0,44.91 L402.1,45.16 L404.1,45.41 L406.2,45.66 L408.2,45.91 L410.3,46.16 L412.4,46.41 L414.5,46.67 L416.6,46.92 L418.8,47.18 L420.9,47.43 L423.0,47.69 L425.1,47.95 L427.2,48.21 L429.3,48.47 L431.3,48.73 L433.4,48.99 L435.4,49.26 L437.4,49.52 L439.3,49.79 L441.3,50.06 L443.2,50.34 L445.0,50.62 L446.9,50.91 L448.8,51.21 L450.7,51.53 L452.6,51.88 L454.6,52.24 L456.6,52.62 L458.7,53.02 L460.7,53.44 L462.7,53.87 L464.7,54.31 L466.7,54.76 L468.6,55.22 L470.5,55.70 L472.4,56.19 L474.3,56.71 L476.2,57.25 L478.1,57.82 L480.0,58.40 L482.0,58.98 L483.9,59.56 L485.9,60.13 L487.8,60.67 L489.7,61.17 L491.7,61.64 L493.6,62.07 L495.5,62.47 L497.5,62.84 L499.4,63.19 L501.4,63.52 L503.4,63.83 L505.5,64.13 L507.5,64.42 L509.6,64.69 L511.7,64.95 L513.7,65.19 L515.7,65.42 L517.7,65.63 L519.7,65.83 L521.6,66.01 L523.6,66.19 L525.5,66.35 L527.5,66.49 L529.4,66.64 L531.4,66.77 L533.4,66.90 L535.4,67.02 L537.4,67.13 L539.5,67.25 L541.5,67.36 L543.6,67.47 L545.6,67.57 L547.6,67.67 L549.7,67.77 L551.7,67.86 L553.6,67.95 L555.6,68.04 L557.5,68.12 L559.5,68.20 L561.4,68.27 L563.4,68.35 L565.4,68.42 L567.4,68.49 L569.4,68.55 L571.4,68.62 L573.4,68.68 L575.5,68.74 L577.5,68.81 L579.6,68.87 L581.6,68.93 L583.7,68.99 L585.7,69.05 L587.8,69.11 L589.8,69.17 L591.9,69.24 L593.9,69.30 L595.9,69.36 L598.0,69.43 L600.0,69.49 L602.0,69.56 L604.0,69.63 L606.0,69.70 L608.0,69.76 L610.0,69.83 L612.0,69.90 L614.0,69.97 L616.0,70.03 L618.0,70.10 L620.0,70.17 L622.0,70.24 L624.0,70.31 L626.0,70.37 L628.0,70.44 L630.0,70.51 L632.0,70.58 L634.0,70.64 L636.0,70.71 L638.0,70.78 L640.0,70.85 L642.0,70.92 L644.0,70.98 L646.0,71.05 L648.0,71.12 L650.0,71.19 L652.0,71.25 L654.0,71.32 L656.0,71.39 L658.0,71.46 L660.0,71.53 L662.0,71.59 L664.0,71.66 L666.0,71.73 L668.0,71.80 L670.0,71.86 L672.0,71.93 L674.0,72.00 L676.0,72.07 L678.0,72.14 L680.0,72.20 L682.0,72.27 L684.0,72.34 L686.0,72.41 L688.0,72.47 L690.0,72.54 L692.0,72.61 L694.0,72.68 L696.0,72.75 L698.0,72.81 L700.0,72.88 L702.0,72.95 L704.0,73.02 L706.0,73.09 L708.0,73.15 L710.0,73.22 L712.0,73.29 L714.0,73.36 L716.0,73.43 L718.0,73.50 L720.0,73.57 L722.0,73.64 L724.0,73.70 L726.0,73.77 L728.0,73.84 L730.0,73.91 L732.0,73.98 L734.0,74.05 L736.0,74.11 L738.0,74.18 L740.0,74.25 L742.0,74.31 L744.0,74.38 L746.0,74.45 L748.0,74.51 L750.0,74.58 L752.1,74.64 L754.1,74.71 L756.1,74.78 L758.2,74.85 L760.2,74.91 L762.3,74.98 L764.4,75.05 L766.4,75.12 L768.5,75.19 L770.6,75.25 L772.7,75.32 L774.7,75.39 L776.8,75.45 L778.8,75.52 L780.8,75.58 L782.9,75.64 L784.8,75.70 L786.8,75.76 L788.8,75.81 L790.7,75.87 L792.6,75.92 L794.6,75.96 L796.5,76.01 L798.4,76.05 L800.4,76.09 L802.4,76.13 L804.4,76.16 L806.4,76.19 L808.4,76.21 L810.4,76.24 L812.4,76.26 L814.4,76.27 L816.4,76.29 L818.3,76.31 L820.3,76.33 L822.2,76.35 L824.2,76.37 L826.1,76.39 L828.1,76.42 L830.1,76.45 L832.1,76.49 L834.1,76.52 L836.1,76.56 L838.2,76.60 L840.2,76.65 L842.3,76.69 L844.3,76.74 L846.3,76.79 L848.4,76.85 L850.4,76.91 L852.3,76.98 L854.3,77.06 L856.3,77.14 L858.2,77.24 L860.2,77.34 L862.1,77.45 L864.1,77.58 L866.0,77.71 L867.9,77.85 L869.9,78.01 L871.8,78.18 L873.8,78.37 L875.7,78.56 L877.7,78.77 L879.6,78.99 L881.6,79.22 L883.5,79.46 L885.4,79.71 L887.4,79.97 L889.4,80.24 L891.3,80.52 L893.4,80.81 L895.4,81.11 L897.5,81.42 L899.6,81.73 L901.7,82.05 L903.7,82.38 L905.8,82.71 L907.9,83.04 L910.0,83.37 L912.1,83.70 L914.1,84.03 L916.2,84.36 L918.2,84.70 L920.3,85.03 L922.4,85.37 L924.5,85.71 L926.6,86.05 L928.7,86.40 L930.9,86.74 L933.0,87.09 L935.1,87.45 L937.1,87.81 L939.2,88.18 L941.1,88.56 L943.0,88.96 L944.9,89.39 L946.7,89.86 L948.5,90.37 L950.3,90.94 L952.1,91.56 L953.9,92.25 L955.6,92.99 L957.4,93.79 L959.1,94.63 L960.8,95.52 L962.5,96.44 L964.2,97.39 L965.9,98.38 L967.5,99.39 L969.2,100.42 L970.9,101.49 L972.5,102.57 L974.2,103.67 L975.8,104.78 L977.4,105.91 L979.1,107.05 L980.7,108.19 L982.3,109.35 L983.8,110.52 L985.4,111.70 L986.9,112.90 L988.4,114.11 L989.9,115.35 L991.4,116.61 L992.8,117.89 L994.3,119.19 L995.7,120.51 L997.1,121.85 L998.5,123.21 L999.8,124.59 L1001.2,125.97 L1002.5,127.37 L1003.7,128.78 L1005.0,130.20 L1006.2,131.63 L1007.5,133.06 L1008.7,134.49 L1009.9,135.91 L1011.0,137.33 L1012.2,138.75 L1013.3,140.16 L1014.5,141.57 L1015.6,142.99 L1016.7,144.42 L1017.8,145.85 L1018.9,147.29 L1019.9,148.75 L1021.0,150.21 L1022.0,151.68 L1023.1,153.16 L1024.1,154.65 L1025.1,156.14 L1026.1,157.64 L1027.1,159.14 L1028.1,160.65 L1029.0,162.16 L1030.0,163.68 L1030.9,165.21 L1031.9,166.75 L1032.8,168.28 L1033.6,169.82 L1034.5,171.35 L1035.3,172.88 L1036.1,174.41 L1036.9,175.94 L1037.7,177.46 L1038.4,178.99 L1039.1,180.52 L1039.8,182.05 L1040.4,183.57 L1041.1,185.08 L1041.7,186.58 L1042.3,188.07 L1042.9,189.58 L1043.5,191.11 L1044.0,192.67 L1044.6,194.26 L1045.2,195.90 L1045.9,197.57 L1046.5,199.28 L1047.1,201.02 L1047.7,202.78 L1048.3,204.55 L1048.9,206.31 L1049.5,208.07 L1050.1,209.80 L1050.6,211.49 L1051.2,213.16 L1051.7,214.80 L1052.2,216.41 L1052.7,218.02 L1053.2,219.63 L1053.7,221.24 L1054.2,222.86 L1054.7,224.50 L1055.2,226.16 L1055.7,227.82 L1056.2,229.50 L1056.7,231.19 L1057.2,232.89 L1057.7,234.59 L1058.2,236.30 L1058.7,238.02 L1059.1,239.74 L1059.6,241.45 L1060.1,243.17 L1060.5,244.88 L1061.0,246.59 L1061.5,248.30 L1061.9,250.00 L1062.3,251.70 L1062.8,253.39 L1063.2,255.09 L1063.6,256.78 L1064.0,258.47 L1064.4,260.16 L1064.8,261.85 L1065.2,263.54 L1065.6,265.23 L1066.0,266.93 L1066.4,268.62 L1066.7,270.31 L1067.1,272.01 L1067.5,273.70 L1067.8,275.40 L1068.2,277.09 L1068.5,278.79 L1068.9,280.49 L1069.2,282.18 L1069.6,283.88 L1069.9,285.58 L1070.2,287.27 L1070.6,288.97 L1070.9,290.67 L1071.2,292.36 L1071.5,294.06 L1071.8,295.76 L1072.1,297.45 L1072.4,299.15 L1072.7,300.84 L1073.0,302.53 L1073.3,304.23 L1073.5,305.92 L1073.8,307.62 L1074.1,309.31 L1074.3,311.01 L1074.6,312.70 L1074.8,314.40 L1075.1,316.09 L1075.3,317.79 L1075.6,319.48 L1075.8,321.18 L1076.0,322.88 L1076.3,324.57 L1076.5,326.27 L1076.8,327.96 L1077.0,329.66 L1077.3,331.35 L1077.5,333.05 L1077.8,334.75 L1078.0,336.44 L1078.3,338.14 L1078.6,339.83 L1078.8,341.53 L1079.1,343.22 L1079.4,344.91 L1079.7,346.61 L1080.0,348.30 L1080.2,350.00 L1080.5,351.69 L1080.8,353.39 L1081.1,355.08 L1081.4,356.77 L1081.7,358.47 L1082.0,360.16 L1082.3,361.86 L1082.6,363.55 L1082.9,365.25 L1083.1,366.94 L1083.4,368.64 L1083.7,370.33 L1084.0,372.03 L1084.2,373.72 L1084.5,375.41 L1084.7,377.11 L1084.9,378.80 L1085.2,380.48 L1085.4,382.16 L1085.6,383.84 L1085.8,385.50 L1086.0,387.16 L1086.1,388.81 L1086.3,390.46 L1086.5,392.10 L1086.6,393.74 L1086.8,395.37 L1086.9,397.01 L1087.1,398.65 L1087.2,400.30 L1087.4,401.95 L1087.5,403.61 L1087.6,405.27 L1087.8,406.95 L1087.9,408.65 L1088.0,410.36 L1088.2,412.08 L1088.3,413.82 L1088.4,415.57 L1088.5,417.32 L1088.7,419.07 L1088.8,420.80 L1088.9,422.51 L1089.0,424.19 L1089.1,425.83 L1089.2,427.45 L1089.3,429.05 L1089.5,430.64 L1089.6,432.22 L1089.6,433.81 L1089.7,435.40 L1089.8,437.01 L1089.9,438.62 L1090.0,440.25 L1090.1,441.88 L1090.2,443.53 L1090.3,445.19 L1090.4,446.86 L1090.5,448.54 L1090.6,450.22 L1090.6,451.92 L1090.7,453.62 L1090.8,455.34 L1090.9,457.05 L1091.0,458.78 L1091.1,460.51 L1091.2,462.25 L1091.3,464.00 L1091.3,465.75 L1091.4,467.51 L1091.5,469.27 L1091.6,471.03 L1091.7,472.80 L1091.8,474.58 L1091.9,476.35 L1092.0,478.13 L1092.1,479.91 L1092.2,481.69 L1092.3,483.47 L1092.4,485.24 L1092.4,486.99 L1092.5,488.74 L1092.6,490.46 L1092.7,492.17 L1092.8,493.85 L1092.9,495.51 L1093.0,497.17 L1093.1,498.81 L1093.2,500.46 L1093.3,502.10 L1093.4,503.75 L1093.5,505.40 L1093.6,507.06 L1093.8,508.73 L1093.9,510.39 L1094.0,512.07 L1094.1,513.75 L1094.2,515.43 L1094.3,517.12 L1094.4,518.81 L1094.5,520.50 L1094.6,522.20 L1094.7,523.90 L1094.8,525.61 L1094.9,527.32 L1095.1,529.03 L1095.2,530.74 L1095.3,532.46 L1095.4,534.17 L1095.5,535.89 L1095.6,537.61 L1095.7,539.34 L1095.8,541.06 L1095.9,542.78 L1096.0,544.51 L1096.2,546.23 L1096.3,547.96 L1096.4,549.68 L1096.5,551.41 L1096.6,553.13 L1096.7,554.86 L1096.8,556.58 L1096.9,558.30 L1097.0,560.02 L1097.1,561.74 L1097.2,563.46 L1097.3,565.17 L1097.4,566.89 L1097.5,568.60 L1097.6,570.30 L1097.7,572.01 L1097.8,573.72 L1097.8,575.42 L1097.9,577.12 L1098.0,578.82 L1098.1,580.52 L1098.2,582.23 L1098.3,583.93 L1098.4,585.64 L1098.4,587.35 L1098.5,589.06 L1098.6,590.77 L1098.7,592.48 L1098.8,594.20 L1098.8,595.92 L1098.9,597.63 L1099.0,599.35 L1099.1,601.07 L1099.1,602.79 L1099.2,604.50 L1099.3,606.22 L1099.4,607.94 L1099.4,609.66 L1099.5,611.38 L1099.6,613.10 L1099.6,614.81 L1099.7,616.53 L1099.8,618.24 L1099.8,619.95 L1099.9,621.66 L1100.0,623.37 L1100.1,625.08 L1100.1,626.79 L1100.2,628.49 L1100.3,630.19 L1100.3,631.89 L1100.4,633.58 L1100.5,635.28 L1100.5,636.96 L1100.6,638.65 L1100.7,640.33 L1100.7,642.01 L1100.8,643.69 L1100.9,645.36 L1100.9,647.02 L1101.0,648.69 L1101.1,650.34 L1101.1,652.00 L1101.2,653.65 L1101.3,655.31 L1101.3,656.97 L1101.4,658.64 L1101.5,660.32 L1101.5,662.01 L1101.6,663.72 L1101.7,665.44 L1101.8,667.17 L1101.8,668.90 L1101.9,670.63 L1102.0,672.35 L1102.1,674.08 L1102.1,675.80 L1102.2,677.52 L1102.3,679.23 L1102.4,680.94 L1102.4,682.64 L1102.5,684.34 L1102.6,686.04 L1102.7,687.73 L1102.7,689.42 L1102.8,691.11 L1102.9,692.79 L1103.0,694.47 L1103.0,696.15 L1103.1,697.83 L1103.2,699.50 L1103.2,701.18 L1103.3,702.85 L1103.4,704.53 L1103.5,706.20 L1103.5,707.87 L1103.6,709.54 L1103.7,711.21 L1103.8,712.88 L1103.8,714.56 L1103.9,716.23 L1104.0,717.90 L1104.0,719.58 L1104.1,721.26 L1104.2,722.94 L1104.3,724.62 L1104.3,726.30 L1104.4,727.99 L1104.5,729.67 L1104.6,731.36"/>
<path d="M250.0,30.93 L252.0,31.44 L254.0,31.95 L256.0,32.46 L258.0,32.97 L260.0,33.48 L262.0,33.98 L264.0,34.48 L265.9,34.98 L267.9,35.48 L269.9,35.97 L271.9,36.45 L273.9,36.93 L275.9,37.40 L277.9,37.85 L279.9,38.28 L281.9,38.68 L283.9,39.06 L285.9,39.41 L287.9,39.75 L289.9,40.08 L291.9,40.40 L294.0,40.71 L296.0,41.02 L298.0,41.34 L300.0,41.65 L302.0,41.97 L304.0,42.29 L306.0,42.62 L308.0,42.94 L310.0,43.27 L312.0,43.60 L314.0,43.93 L316.0,44.25 L318.0,44.58 L320.0,44.91 L322.0,45.24 L323.9,45.56 L325.9,45.89 L327.9,46.22 L329.9,46.55 L332.0,46.87 L334.0,47.19 L336.0,47.51 L338.0,47.81 L340.0,48.11 L342.1,48.40 L344.1,48.68 L346.2,48.95 L348.2,49.22 L350.3,49.49 L352.3,49.75 L354.3,50.02 L356.3,50.31 L358.2,50.61 L360.2,50.94 L362.1,51.30 L364.1,51.68 L366.0,52.08 L368.0,52.50 L369.9,52.92 L371.9,53.35 L373.8,53.77 L375.8,54.19 L377.8,54.62 L379.8,55.05 L381.8,55.50 L383.8,55.96 L385.9,56.45 L387.9,56.96 L389.9,57.49 L391.8,58.04 L393.8,58.62 L395.7,59.21 L397.6,59.83 L399.5,60.46 L401.4,61.10 L403.3,61.74 L405.2,62.39 L407.1,63.02 L409.0,63.65 L411.0,64.26 L412.9,64.86 L414.8,65.45 L416.7,66.03 L418.6,66.62 L420.6,67.20 L422.5,67.78 L424.4,68.38 L426.3,68.98 L428.2,69.60 L430.1,70.24 L432.0,70.91 L433.9,71.60 L435.9,72.31 L437.8,73.03 L439.7,73.75 L441.6,74.49 L443.5,75.22 L445.4,75.96 L447.3,76.71 L449.2,77.46 L451.1,78.21 L453.0,78.97 L454.9,79.73 L456.8,80.48 L458.7,81.22 L460.7,81.95 L462.6,82.65 L464.5,83.33 L466.4,83.98 L468.3,84.61 L470.2,85.21 L472.2,85.80 L474.1,86.37 L476.0,86.93 L478.0,87.48 L479.9,88.02 L481.9,88.55 L483.9,89.08 L485.9,89.59 L487.9,90.10 L489.9,90.59 L491.9,91.09 L493.9,91.57 L495.9,92.06 L497.9,92.55 L499.9,93.05 L501.9,93.54 L503.8,94.04 L505.7,94.54 L507.6,95.03 L509.6,95.52 L511.5,95.99 L513.4,96.44 L515.4,96.88 L517.4,97.29 L519.4,97.68 L521.4,98.06 L523.4,98.41 L525.4,98.74 L527.4,99.04 L529.5,99.31 L531.5,99.55 L533.5,99.74 L535.4,99.89 L537.4,100.00 L539.3,100.07 L541.3,100.12 L543.3,100.16 L545.4,100.19 L547.4,100.22 L549.4,100.26 L551.2,100.31 L553.0,100.36 L554.7,100.42 L556.4,100.47 L558.1,100.54 L559.8,100.60 L561.6,100.67 L563.5,100.74 L565.4,100.81 L567.3,100.88 L569.3,100.96 L571.3,101.04 L573.3,101.12 L575.4,101.20 L577.5,101.28 L579.7,101.36 L581.8,101.45 L584.0,101.53 L586.3,101.62 L588.5,101.70 L590.8,101.78 L593.0,101.87 L595.3,101.95 L597.4,102.03 L599.5,102.10 L601.4,102.17 L603.3,102.23 L605.1,102.29 L606.9,102.35 L608.7,102.40 L610.5,102.46 L612.3,102.52 L614.1,102.57 L616.0,102.63 L617.8,102.68 L619.7,102.74 L621.7,102.80 L623.6,102.85 L625.5,102.91 L627.5,102.97 L629.5,103.02 L631.5,103.08 L633.5,103.14 L635.5,103.19 L637.6,103.25 L639.6,103.31 L641.7,103.37 L643.7,103.43 L645.8,103.49 L647.9,103.55 L650.0,103.61 L652.1,103.67 L654.2,103.73 L656.3,103.80 L658.4,103.86 L660.5,103.93 L662.6,103.99 L664.7,104.06 L666.8,104.12 L668.9,104.19 L671.0,104.26 L673.1,104.33 L675.2,104.40 L677.3,104.47 L679.4,104.55 L681.5,104.62 L683.6,104.69 L685.7,104.77 L687.8,104.85 L689.8,104.93 L691.9,105.01 L693.9,105.09 L696.0,105.17 L698.0,105.26 L700.0,105.34 L702.0,105.42 L704.0,105.51 L706.1,105.59 L708.1,105.68 L710.2,105.76 L712.2,105.85 L714.3,105.93 L716.4,106.01 L718.5,106.10 L720.6,106.18 L722.7,106.27 L724.8,106.35 L726.9,106.44 L729.0,106.52 L731.1,106.61 L733.2,106.69 L735.3,106.78 L737.4,106.87 L739.5,106.96 L741.6,107.05 L743.7,107.14 L745.8,107.23 L747.9,107.33 L750.0,107.43 L752.1,107.52 L754.2,107.62 L756.3,107.72 L758.3,107.83 L760.4,107.93 L762.4,108.04 L764.5,108.15 L766.5,108.26 L768.5,108.37 L770.5,108.49 L772.5,108.61 L774.4,108.73 L776.4,108.85 L778.3,108.98 L780.2,109.11 L782.1,109.25 L784.0,109.38 L785.9,109.52 L787.7,109.67 L789.5,109.81 L791.3,109.96 L793.1,110.12 L794.9,110.28 L796.7,110.45 L798.5,110.63 L800.5,110.84 L802.5,111.06 L804.7,111.31 L806.9,111.58 L809.1,111.86 L811.3,112.15 L813.4,112.45 L815.6,112.77 L817.7,113.08 L819.8,113.41 L821.9,113.74 L823.9,114.07 L825.9,114.40 L827.9,114.74 L829.9,115.07 L831.8,115.40 L833.8,115.73 L835.7,116.06 L837.5,116.38 L839.4,116.70 L841.2,117.01 L843.0,117.31 L844.8,117.60 L846.7,117.89 L848.5,118.17 L850.4,118.45 L852.4,118.73 L854.4,119.01 L856.5,119.28 L858.6,119.55 L860.7,119.81 L862.8,120.06 L864.8,120.30 L866.8,120.54 L868.7,120.79 L870.7,121.03 L872.6,121.28 L874.5,121.55 L876.4,121.83 L878.3,122.13 L880.3,122.46 L882.3,122.82 L884.3,123.20 L886.4,123.60 L888.5,124.02 L890.5,124.45 L892.5,124.89 L894.4,125.34 L896.4,125.81 L898.3,126.30 L900.2,126.82 L902.2,127.38 L904.2,127.97 L906.1,128.59 L908.1,129.22 L910.1,129.86 L912.0,130.50 L914.0,131.14 L916.0,131.79 L918.0,132.43 L920.0,133.09 L922.0,133.75 L924.0,134.41 L925.9,135.09 L927.9,135.76 L929.8,136.45 L931.8,137.16 L933.7,137.88 L935.6,138.63 L937.5,139.39 L939.4,140.17 L941.3,140.97 L943.1,141.79 L945.0,142.62 L946.8,143.48 L948.7,144.36 L950.5,145.25 L952.4,146.15 L954.2,147.07 L955.9,148.01 L957.7,148.98 L959.5,149.96 L961.2,150.96 L962.9,151.98 L964.6,153.01 L966.3,154.05 L968.0,155.11 L969.6,156.18 L971.3,157.26 L972.9,158.37 L974.5,159.49 L976.1,160.63 L977.7,161.81 L979.2,163.02 L980.6,164.25 L982.1,165.53 L983.4,166.83 L984.8,168.17 L986.1,169.53 L987.4,170.90 L988.7,172.28 L989.9,173.67 L991.2,175.04 L992.4,176.41 L993.6,177.79 L994.7,179.18 L995.9,180.61 L997.0,182.07 L998.2,183.56 L999.2,185.04 L1000.2,186.50 L1001.2,187.94 L1002.1,189.35 L1002.9,190.77 L1003.8,192.22 L1004.6,193.69 L1005.5,195.20 L1006.3,196.74 L1007.1,198.32 L1008.0,199.92 L1008.8,201.56 L1009.7,203.23 L1010.5,204.92 L1011.3,206.61 L1012.2,208.29 L1013.0,209.94 L1013.7,211.53 L1014.5,213.06 L1015.2,214.57 L1015.9,216.06 L1016.5,217.55 L1017.2,219.07 L1017.9,220.61 L1018.6,222.17 L1019.3,223.75 L1020.0,225.34 L1020.7,226.96 L1021.4,228.58 L1022.1,230.22 L1022.8,231.87 L1023.5,233.53 L1024.2,235.19 L1024.9,236.86 L1025.6,238.54 L1026.3,240.21 L1027.0,241.88 L1027.6,243.55 L1028.3,245.21 L1028.9,246.87 L1029.6,248.52 L1030.2,250.17 L1030.9,251.81 L1031.5,253.45 L1032.1,255.09 L1032.7,256.74 L1033.3,258.39 L1034.0,260.05 L1034.6,261.71 L1035.2,263.37 L1035.7,265.03 L1036.3,266.69 L1036.9,268.35 L1037.5,270.01 L1038.1,271.67 L1038.6,273.33 L1039.2,274.99 L1039.7,276.65 L1040.3,278.31 L1040.8,279.97 L1041.4,281.63 L1041.9,283.29 L1042.4,284.95 L1043.0,286.62 L1043.5,288.28 L1044.0,289.95 L1044.5,291.61 L1045.0,293.27 L1045.5,294.94 L1046.0,296.60 L1046.5,298.26 L1047.0,299.92 L1047.4,301.58 L1047.9,303.24 L1048.4,304.89 L1048.8,306.55 L1049.3,308.21 L1049.7,309.87 L1050.2,311.53 L1050.6,313.19 L1051.0,314.85 L1051.5,316.52 L1051.9,318.18 L1052.3,319.84 L1052.7,321.50 L1053.1,323.17 L1053.5,324.83 L1053.9,326.49 L1054.3,328.16 L1054.7,329.82 L1055.1,331.49 L1055.5,333.15 L1055.9,334.82 L1056.2,336.49 L1056.6,338.16 L1057.0,339.84 L1057.3,341.53 L1057.7,343.21 L1058.0,344.90 L1058.4,346.60 L1058.7,348.29 L1059.1,349.98 L1059.4,351.68 L1059.7,353.37 L1060.0,355.07 L1060.3,356.76 L1060.7,358.46 L1061.0,360.15 L1061.3,361.85 L1061.6,363.54 L1061.9,365.24 L1062.2,366.93 L1062.5,368.63 L1062.7,370.33 L1063.0,372.02 L1063.3,373.72 L1063.6,375.42 L1063.9,377.11 L1064.2,378.81 L1064.5,380.50 L1064.7,382.18 L1065.0,383.86 L1065.3,385.52 L1065.5,387.18 L1065.8,388.83 L1066.1,390.47 L1066.3,392.11 L1066.6,393.75 L1066.8,395.38 L1067.1,397.01 L1067.3,398.65 L1067.6,400.29 L1067.8,401.93 L1068.1,403.59 L1068.3,405.25 L1068.6,406.92 L1068.8,408.61 L1069.1,410.32 L1069.3,412.04 L1069.6,413.78 L1069.8,415.54 L1070.1,417.32 L1070.3,419.10 L1070.6,420.87 L1070.8,422.61 L1071.1,424.29 L1071.3,425.92 L1071.6,427.51 L1071.8,429.07 L1072.0,430.63 L1072.2,432.20 L1072.5,433.78 L1072.7,435.37 L1073.0,436.98 L1073.2,438.59 L1073.4,440.22 L1073.7,441.86 L1073.9,443.51 L1074.2,445.16 L1074.4,446.83 L1074.7,448.51 L1074.9,450.20 L1075.2,451.89 L1075.4,453.60 L1075.7,455.31 L1075.9,457.03 L1076.1,458.76 L1076.4,460.49 L1076.6,462.23 L1076.9,463.98 L1077.1,465.73 L1077.4,467.49 L1077.6,469.25 L1077.9,471.01 L1078.1,472.79 L1078.4,474.56 L1078.6,476.34 L1078.9,478.12 L1079.1,479.90 L1079.3,481.69 L1079.6,483.47 L1079.8,485.25 L1080.0,487.03 L1080.3,488.79 L1080.5,490.53 L1080.7,492.23 L1080.9,493.90 L1081.1,495.54 L1081.3,497.18 L1081.5,498.81 L1081.7,500.44 L1081.9,502.08 L1082.1,503.73 L1082.3,505.38 L1082.5,507.04 L1082.7,508.71 L1082.8,510.37 L1083.0,512.05 L1083.2,513.73 L1083.4,515.41 L1083.6,517.10 L1083.8,518.79 L1084.0,520.49 L1084.2,522.18 L1084.3,523.89 L1084.5,525.59 L1084.7,527.30 L1084.9,529.01 L1085.1,530.73 L1085.3,532.44 L1085.5,534.16 L1085.6,535.88 L1085.8,537.60 L1086.0,539.33 L1086.2,541.05 L1086.4,542.78 L1086.5,544.50 L1086.7,546.23 L1086.9,547.95 L1087.1,549.68 L1087.3,551.41 L1087.4,553.13 L1087.6,554.86 L1087.8,556.58 L1088.0,558.30 L1088.1,560.02 L1088.3,561.74 L1088.5,563.46 L1088.7,565.18 L1088.8,566.89 L1089.0,568.60 L1089.2,570.31 L1089.4,572.02 L1089.5,573.72 L1089.7,575.42 L1089.9,577.12 L1090.1,578.82 L1090.2,580.52 L1090.4,582.22 L1090.6,583.93 L1090.8,585.63 L1090.9,587.34 L1091.1,589.05 L1091.3,590.77 L1091.5,592.48 L1091.7,594.19 L1091.8,595.91 L1092.0,597.63 L1092.2,599.35 L1092.4,601.06 L1092.5,602.78 L1092.7,604.50 L1092.9,606.22 L1093.1,607.94 L1093.2,609.66 L1093.4,611.38 L1093.6,613.09 L1093.8,614.81 L1093.9,616.52 L1094.1,618.24 L1094.3,619.95 L1094.5,621.66 L1094.6,623.37 L1094.8,625.08 L1095.0,626.79 L1095.1,628.49 L1095.3,630.19 L1095.5,631.89 L1095.6,633.58 L1095.8,635.28 L1095.9,636.97 L1096.1,638.65 L1096.2,640.34 L1096.4,642.01 L1096.5,643.69 L1096.7,645.36 L1096.8,647.03 L1097.0,648.69 L1097.1,650.35 L1097.3,652.00 L1097.4,653.65 L1097.5,655.30 L1097.7,656.95 L1097.8,658.60 L1097.9,660.28 L1098.1,661.97 L1098.2,663.69 L1098.3,665.42 L1098.4,667.16 L1098.6,668.89 L1098.7,670.63 L1098.8,672.36 L1098.9,674.09 L1099.0,675.81 L1099.1,677.52 L1099.2,679.24 L1099.4,680.94 L1099.5,682.64 L1099.6,684.34 L1099.7,686.04 L1099.7,687.73 L1099.8,689.42 L1099.9,691.11 L1100.0,692.79 L1100.1,694.47 L1100.2,696.15 L1100.3,697.83 L1100.4,699.50 L1100.5,701.18 L1100.6,702.85 L1100.6,704.52 L1100.7,706.19 L1100.8,707.87 L1100.9,709.54 L1101.0,711.21 L1101.1,712.88 L1101.2,714.55 L1101.2,716.23 L1101.3,717.90 L1101.4,719.57 L1101.5,721.25 L1101.6,722.93 L1101.7,724.61 L1101.8,726.30 L1101.9,727.98 L1102.0,729.67 L1102.1,731.36"/>
<path d="M250.0,30.93 L252.0,31.23 L254.1,31.52 L256.1,31.82 L258.2,32.11 L260.2,32.41 L262.3,32.70 L264.3,32.99 L266.3,33.28 L268.3,33.57 L270.3,33.85 L272.3,34.12 L274.3,34.39 L276.2,34.64 L278.2,34.89 L280.1,35.14 L282.1,35.37 L284.0,35.60 L285.9,35.82 L287.8,36.03 L289.8,36.24 L291.7,36.45 L293.6,36.64 L295.6,36.84 L297.5,37.03 L299.4,37.22 L301.3,37.41 L303.2,37.59 L305.0,37.78 L306.9,37.96 L308.8,38.14 L310.7,38.32 L312.6,38.51 L314.5,38.69 L316.5,38.88 L318.5,39.07 L320.6,39.26 L322.7,39.45 L324.7,39.65 L326.8,39.84 L329.0,40.04 L331.1,40.23 L333.2,40.43 L335.3,40.62 L337.4,40.82 L339.6,41.01 L341.7,41.20 L343.8,41.38 L345.9,41.57 L347.9,41.75 L350.0,41.93 L352.1,42.11 L354.2,42.29 L356.3,42.46 L358.5,42.63 L360.6,42.80 L362.8,42.97 L364.9,43.14 L367.1,43.31 L369.3,43.47 L371.4,43.64 L373.6,43.80 L375.7,43.97 L377.8,44.14 L379.9,44.30 L382.0,44.47 L384.0,44.63 L386.0,44.80 L387.9,44.97 L389.8,45.15 L391.7,45.33 L393.5,45.52 L395.3,45.72 L397.1,45.93 L398.9,46.16 L400.8,46.41 L402.6,46.69 L404.5,46.98 L406.3,47.30 L408.2,47.65 L410.2,48.01 L412.1,48.40 L414.0,48.81 L415.9,49.23 L417.9,49.68 L419.9,50.15 L421.9,50.64 L423.9,51.15 L425.9,51.68 L427.9,52.24 L429.8,52.82 L431.8,53.42 L433.8,54.06 L435.7,54.71 L437.6,55.40 L439.5,56.10 L441.4,56.83 L443.3,57.58 L445.1,58.35 L446.9,59.14 L448.8,59.94 L450.6,60.75 L452.4,61.57 L454.2,62.41 L456.0,63.26 L457.8,64.12 L459.6,64.99 L461.4,65.86 L463.2,66.75 L465.0,67.64 L466.8,68.54 L468.6,69.43 L470.4,70.33 L472.2,71.22 L474.0,72.11 L475.9,73.00 L477.7,73.89 L479.5,74.77 L481.3,75.66 L483.1,76.54 L484.9,77.42 L486.7,78.30 L488.5,79.19 L490.3,80.07 L492.1,80.96 L493.8,81.85 L495.6,82.74 L497.3,83.62 L499.0,84.52 L500.8,85.41 L502.5,86.30 L504.2,87.20 L506.0,88.09 L507.7,88.99 L509.4,89.89 L511.1,90.79 L512.9,91.68 L514.6,92.58 L516.3,93.47 L518.0,94.36 L519.8,95.24 L521.5,96.12 L523.3,96.98 L525.0,97.84 L526.8,98.69 L528.6,99.53 L530.4,100.36 L532.2,101.18 L534.0,101.98 L535.9,102.77 L537.7,103.55 L539.6,104.32 L541.4,105.07 L543.3,105.81 L545.2,106.54 L547.1,107.26 L549.0,107.97 L550.9,108.68 L552.8,109.39 L554.7,110.10 L556.5,110.82 L558.4,111.55 L560.2,112.28 L562.1,113.03 L563.9,113.78 L565.7,114.54 L567.5,115.31 L569.4,116.08 L571.2,116.86 L573.0,117.63 L574.9,118.41 L576.7,119.17 L578.6,119.94 L580.4,120.69 L582.3,121.44 L584.2,122.19 L586.0,122.92 L587.9,123.65 L589.8,124.36 L591.7,125.07 L593.5,125.76 L595.4,126.44 L597.3,127.10 L599.2,127.75 L601.0,128.39 L602.9,129.01 L604.8,129.62 L606.7,130.21 L608.6,130.79 L610.4,131.36 L612.3,131.91 L614.2,132.46 L616.1,132.99 L618.0,133.51 L619.9,134.02 L621.9,134.52 L623.8,135.01 L625.7,135.50 L627.7,135.97 L629.6,136.45 L631.6,136.92 L633.5,137.38 L635.5,137.84 L637.4,138.30 L639.4,138.76 L641.3,139.22 L643.3,139.67 L645.2,140.13 L647.2,140.58 L649.1,141.04 L651.1,141.50 L653.1,141.96 L655.1,142.42 L657.0,142.88 L659.0,143.35 L661.0,143.81 L663.0,144.28 L665.0,144.74 L667.0,145.19 L669.0,145.65 L671.0,146.09 L673.0,146.54 L675.0,146.98 L677.0,147.41 L679.0,147.84 L681.0,148.27 L683.1,148.69 L685.1,149.11 L687.1,149.53 L689.2,149.94 L691.3,150.34 L693.3,150.73 L695.4,151.12 L697.5,151.48 L699.6,151.83 L701.6,152.30 L703.6,152.61 L705.8,152.88 L707.9,153.12 L710.1,153.33 L712.1,153.54 L714.1,153.78 L716.2,154.11 L718.3,154.57 L720.4,155.18 L722.3,155.96 L724.0,156.86 L725.7,157.80 L727.5,158.66 L729.5,159.38 L731.6,159.98 L733.7,160.50 L735.9,161.00 L738.0,161.48 L740.1,161.95 L742.2,162.41 L744.3,162.87 L746.4,163.29 L748.5,163.74 L750.6,164.19 L752.7,164.62 L754.7,165.06 L756.8,165.49 L758.8,165.91 L760.8,166.32 L762.9,166.73 L764.9,167.12 L766.8,167.51 L768.8,167.87 L770.8,168.22 L772.8,168.56 L774.8,168.88 L776.8,169.19 L778.8,169.48 L780.8,169.77 L782.9,170.05 L784.9,170.33 L786.9,170.61 L788.9,170.88 L790.9,171.15 L792.9,171.43 L794.9,171.70 L796.9,171.99 L798.9,172.28 L800.9,172.58 L802.9,172.90 L804.8,173.23 L806.8,173.58 L808.8,173.95 L810.8,174.33 L812.8,174.72 L814.8,175.13 L816.8,175.55 L818.8,175.98 L820.8,176.41 L822.8,176.84 L824.8,177.26 L826.9,177.68 L828.9,178.09 L830.9,178.50 L832.9,178.89 L834.9,179.28 L837.0,179.66 L839.0,180.03 L841.0,180.40 L843.0,180.76 L845.1,181.13 L847.1,181.49 L849.1,181.85 L851.1,182.22 L853.1,182.59 L855.1,182.97 L857.1,183.35 L859.2,183.74 L861.2,184.13 L863.2,184.53 L865.2,184.93 L867.2,185.35 L869.2,185.76 L871.1,186.19 L873.1,186.62 L875.1,187.06 L877.0,187.50 L879.0,187.96 L880.9,188.42 L882.8,188.90 L884.7,189.38 L886.6,189.87 L888.5,190.38 L890.4,190.90 L892.3,191.42 L894.2,191.97 L896.1,192.52 L898.0,193.08 L899.9,193.66 L901.8,194.25 L903.6,194.85 L905.5,195.46 L907.4,196.08 L909.4,196.71 L911.3,197.36 L913.2,198.02 L915.1,198.68 L917.0,199.36 L918.8,200.05 L920.7,200.76 L922.5,201.48 L924.4,202.21 L926.2,202.97 L928.0,203.74 L929.8,204.54 L931.5,205.35 L933.3,206.18 L935.0,207.03 L936.7,207.90 L938.4,208.78 L940.1,209.67 L941.8,210.57 L943.5,211.48 L945.2,212.40 L946.8,213.33 L948.5,214.28 L950.2,215.24 L951.8,216.21 L953.4,217.19 L955.1,218.19 L956.7,219.21 L958.3,220.24 L959.9,221.29 L961.4,222.36 L963.0,223.44 L964.5,224.55 L966.0,225.67 L967.5,226.80 L969.0,227.95 L970.5,229.11 L972.0,230.29 L973.5,231.48 L975.0,232.68 L976.4,233.88 L977.9,235.10 L979.4,236.33 L980.8,237.57 L982.3,238.82 L983.7,240.07 L985.1,241.34 L986.5,242.63 L987.9,243.92 L989.2,245.22 L990.6,246.54 L991.9,247.88 L993.2,249.22 L994.5,250.58 L995.8,251.95 L997.1,253.32 L998.3,254.71 L999.5,256.11 L1000.7,257.51 L1001.9,258.92 L1003.0,260.34 L1004.1,261.77 L1005.2,263.21 L1006.3,264.66 L1007.3,266.11 L1008.4,267.58 L1009.4,269.06 L1010.3,270.55 L1011.3,272.05 L1012.2,273.56 L1013.2,275.07 L1014.0,276.60 L1014.9,278.13 L1015.8,279.67 L1016.6,281.22 L1017.4,282.79 L1018.2,284.37 L1019.0,285.96 L1019.7,287.57 L1020.4,289.18 L1021.2,290.80 L1021.8,292.43 L1022.5,294.07 L1023.1,295.72 L1023.8,297.37 L1024.4,299.04 L1024.9,300.71 L1025.5,302.39 L1026.0,304.08 L1026.6,305.77 L1027.1,307.47 L1027.7,309.17 L1028.2,310.86 L1028.7,312.54 L1029.2,314.21 L1029.8,315.88 L1030.3,317.53 L1030.8,319.18 L1031.3,320.83 L1031.9,322.48 L1032.4,324.14 L1032.9,325.81 L1033.4,327.49 L1033.9,329.19 L1034.4,330.90 L1034.9,332.62 L1035.4,334.33 L1035.9,336.04 L1036.3,337.74 L1036.7,339.42 L1037.1,341.09 L1037.5,342.74 L1037.9,344.38 L1038.3,346.02 L1038.6,347.67 L1039.0,349.32 L1039.3,350.99 L1039.6,352.67 L1040.0,354.36 L1040.3,356.07 L1040.6,357.79 L1040.9,359.52 L1041.3,361.26 L1041.6,363.01 L1041.9,364.76 L1042.2,366.52 L1042.5,368.27 L1042.8,370.03 L1043.1,371.78 L1043.4,373.53 L1043.6,375.26 L1043.9,376.99 L1044.2,378.71 L1044.4,380.42 L1044.7,382.12 L1044.9,383.80 L1045.2,385.48 L1045.4,387.14 L1045.6,388.80 L1045.9,390.45 L1046.1,392.09 L1046.3,393.73 L1046.5,395.37 L1046.7,397.01 L1046.9,398.66 L1047.1,400.30 L1047.3,401.96 L1047.5,403.62 L1047.7,405.29 L1047.9,406.97 L1048.0,408.67 L1048.2,410.38 L1048.4,412.10 L1048.6,413.83 L1048.7,415.57 L1048.9,417.31 L1049.1,419.04 L1049.2,420.76 L1049.4,422.46 L1049.5,424.14 L1049.7,425.79 L1049.8,427.42 L1049.9,429.03 L1050.0,430.63 L1050.2,432.22 L1050.3,433.81 L1050.4,435.41 L1050.5,437.02 L1050.6,438.64 L1050.7,440.26 L1050.8,441.90 L1050.9,443.55 L1051.0,445.20 L1051.1,446.87 L1051.3,448.55 L1051.3,450.23 L1051.4,451.93 L1051.5,453.63 L1051.6,455.34 L1051.7,457.06 L1051.8,458.79 L1051.9,460.52 L1052.0,462.26 L1052.1,464.00 L1052.2,465.76 L1052.3,467.51 L1052.4,469.27 L1052.5,471.04 L1052.6,472.81 L1052.7,474.58 L1052.8,476.35 L1052.9,478.13 L1053.0,479.91 L1053.1,481.68 L1053.2,483.45 L1053.3,485.22 L1053.3,486.97 L1053.4,488.71 L1053.5,490.43 L1053.6,492.14 L1053.7,493.82 L1053.8,495.49 L1053.9,497.15 L1054.0,498.81 L1054.1,500.46 L1054.2,502.11 L1054.3,503.76 L1054.4,505.41 L1054.5,507.07 L1054.6,508.73 L1054.7,510.40 L1054.7,512.08 L1054.8,513.75 L1054.9,515.44 L1055.0,517.12 L1055.1,518.81 L1055.2,520.51 L1055.3,522.21 L1055.4,523.91 L1055.5,525.61 L1055.6,527.32 L1055.7,529.03 L1055.7,530.75 L1055.8,532.46 L1055.9,534.18 L1056.0,535.90 L1056.1,537.62 L1056.2,539.34 L1056.3,541.06 L1056.4,542.79 L1056.5,544.51 L1056.6,546.24 L1056.7,547.96 L1056.8,549.69 L1056.9,551.41 L1056.9,553.13 L1057.0,554.86 L1057.1,556.58 L1057.2,558.30 L1057.3,560.02 L1057.4,561.74 L1057.5,563.46 L1057.6,565.17 L1057.7,566.88 L1057.8,568.59 L1057.9,570.30 L1058.0,572.01 L1058.1,573.71 L1058.2,575.42 L1058.2,577.12 L1058.3,578.82 L1058.4,580.53 L1058.5,582.23 L1058.6,583.94 L1058.7,585.64 L1058.8,587.35 L1058.9,589.06 L1059.0,590.78 L1059.1,592.49 L1059.2,594.20 L1059.3,595.92 L1059.4,597.64 L1059.5,599.35 L1059.6,601.07 L1059.7,602.79 L1059.8,604.51 L1059.9,606.23 L1060.0,607.94 L1060.0,609.66 L1060.1,611.38 L1060.2,613.10 L1060.3,614.81 L1060.4,616.53 L1060.5,618.24 L1060.6,619.95 L1060.7,621.66 L1060.8,623.37 L1060.9,625.08 L1061.0,626.79 L1061.1,628.49 L1061.2,630.19 L1061.3,631.89 L1061.4,633.58 L1061.5,635.27 L1061.6,636.96 L1061.7,638.65 L1061.8,640.33 L1061.9,642.01 L1062.0,643.68 L1062.1,645.35 L1062.2,647.02 L1062.3,648.68 L1062.4,650.34 L1062.5,652.00 L1062.6,653.66 L1062.7,655.32 L1062.8,656.98 L1062.9,658.66 L1063.0,660.34 L1063.1,662.03 L1063.2,663.74 L1063.3,665.45 L1063.4,667.17 L1063.5,668.90 L1063.6,670.62 L1063.7,672.35 L1063.8,674.07 L1063.9,675.80 L1064.0,677.51 L1064.1,679.22 L1064.2,680.93 L1064.4,682.64 L1064.5,684.34 L1064.6,686.03 L1064.7,687.73 L1064.8,689.42 L1064.9,691.10 L1065.0,692.79 L1065.1,694.47 L1065.2,696.15 L1065.3,697.83 L1065.5,699.50 L1065.6,701.18 L1065.7,702.85 L1065.8,704.52 L1065.9,706.20 L1066.0,707.87 L1066.1,709.54 L1066.2,711.21 L1066.3,712.88 L1066.4,714.56 L1066.6,716.23 L1066.7,717.91 L1066.8,719.58 L1066.9,721.26 L1067.0,722.94 L1067.1,724.62 L1067.2,726.30 L1067.3,727.99 L1067.4,729.67 L1067.5,731.36"/>
<path d="M250.0,30.93 L251.8,31.59 L253.7,32.25 L255.5,32.91 L257.3,33.57 L259.2,34.23 L261.0,34.89 L262.9,35.54 L264.8,36.19 L266.6,36.83 L268.5,37.48 L270.4,38.11 L272.3,38.74 L274.2,39.36 L276.2,39.97 L278.1,40.55 L280.1,41.12 L282.0,41.67 L284.0,42.19 L286.0,42.70 L288.0,43.19 L290.0,43.67 L292.0,44.15 L293.9,44.65 L295.9,45.15 L297.9,45.67 L299.9,46.22 L301.8,46.78 L303.8,47.38 L305.7,47.99 L307.6,48.62 L309.5,49.27 L311.4,49.92 L313.3,50.59 L315.2,51.26 L317.1,51.94 L319.1,52.61 L321.0,53.28 L322.9,53.95 L324.8,54.62 L326.7,55.29 L328.6,55.96 L330.5,56.65 L332.4,57.34 L334.3,58.04 L336.2,58.76 L338.1,59.50 L339.9,60.25 L341.8,61.02 L343.6,61.80 L345.5,62.61 L347.3,63.43 L349.1,64.26 L350.9,65.11 L352.8,65.97 L354.6,66.84 L356.4,67.72 L358.2,68.60 L359.9,69.48 L361.7,70.38 L363.5,71.27 L365.3,72.17 L367.0,73.08 L368.8,74.00 L370.5,74.93 L372.2,75.88 L374.0,76.85 L375.7,77.84 L377.3,78.85 L379.0,79.88 L380.6,80.94 L382.3,82.01 L383.9,83.11 L385.4,84.23 L387.0,85.36 L388.6,86.52 L390.1,87.69 L391.6,88.88 L393.2,90.08 L394.7,91.29 L396.2,92.51 L397.7,93.73 L399.2,94.94 L400.6,96.16 L402.1,97.38 L403.5,98.60 L405.0,99.82 L406.4,101.04 L407.8,102.27 L409.3,103.51 L410.7,104.76 L412.1,106.02 L413.5,107.28 L414.9,108.56 L416.3,109.83 L417.7,111.11 L419.1,112.38 L420.5,113.65 L421.9,114.91 L423.2,116.16 L424.5,117.42 L425.9,118.68 L427.2,119.95 L428.5,121.23 L429.9,122.51 L431.2,123.79 L432.5,125.08 L433.9,126.37 L435.2,127.66 L436.6,128.95 L437.9,130.23 L439.3,131.51 L440.6,132.78 L442.0,134.04 L443.4,135.30 L444.7,136.55 L446.1,137.80 L447.5,139.04 L448.9,140.28 L450.3,141.51 L451.7,142.74 L453.1,143.96 L454.5,145.18 L456.0,146.40 L457.4,147.61 L458.8,148.82 L460.2,150.02 L461.6,151.22 L463.0,152.42 L464.5,153.62 L465.9,154.83 L467.3,156.03 L468.8,157.23 L470.2,158.43 L471.6,159.63 L473.1,160.84 L474.5,162.04 L476.0,163.24 L477.4,164.44 L478.9,165.63 L480.3,166.82 L481.8,168.01 L483.2,169.20 L484.7,170.38 L486.2,171.57 L487.6,172.75 L489.1,173.93 L490.6,175.11 L492.0,176.29 L493.5,177.47 L495.0,178.65 L496.5,179.84 L498.0,181.02 L499.5,182.20 L501.0,183.38 L502.5,184.55 L504.0,185.73 L505.4,186.89 L507.0,188.06 L508.5,189.21 L510.0,190.37 L511.5,191.52 L513.0,192.66 L514.5,193.81 L516.1,194.96 L517.7,196.11 L519.2,197.26 L520.8,198.42 L522.4,199.57 L524.0,200.72 L525.6,201.87 L527.2,203.00 L528.8,204.12 L530.4,205.22 L532.0,206.30 L533.6,207.37 L535.3,208.41 L536.9,209.43 L538.5,210.43 L540.2,211.42 L541.9,212.38 L543.6,213.32 L545.3,214.24 L547.0,215.14 L548.7,216.02 L550.4,216.87 L552.2,217.69 L553.9,218.49 L555.7,219.27 L557.5,220.03 L559.3,220.76 L561.1,221.48 L562.9,222.18 L564.8,222.86 L566.6,223.52 L568.5,224.15 L570.4,224.76 L572.3,225.34 L574.3,225.90 L576.2,226.44 L578.1,226.94 L580.1,227.42 L582.0,227.88 L584.0,228.31 L586.0,228.72 L588.0,229.10 L590.0,229.46 L591.9,229.81 L593.9,230.14 L595.9,230.46 L597.9,230.77 L599.9,231.07 L601.8,231.37 L603.8,231.66 L605.7,231.94 L607.7,232.22 L609.6,232.49 L611.6,232.75 L613.6,233.00 L615.6,233.25 L617.6,233.48 L619.5,233.70 L621.5,233.90 L623.4,234.10 L625.4,234.28 L627.3,234.45 L629.2,234.62 L631.2,234.78 L633.1,234.94 L635.1,235.10 L637.2,235.25 L639.2,235.40 L641.3,235.55 L643.4,235.69 L645.5,235.83 L647.6,235.97 L649.7,236.10 L651.8,236.23 L653.9,236.36 L655.9,236.48 L658.0,236.60 L660.0,236.71 L662.0,236.82 L664.0,236.93 L666.0,237.03 L668.0,237.12 L670.0,237.21 L671.9,237.29 L673.9,237.37 L675.8,237.44 L677.7,237.51 L679.7,237.57 L681.6,237.64 L683.5,237.70 L685.5,237.77 L687.5,237.83 L689.5,237.90 L691.5,237.97 L693.5,238.05 L695.5,238.13 L697.6,238.21 L699.5,238.30 L701.5,238.39 L703.4,238.48 L705.4,238.56 L707.3,238.66 L709.2,238.75 L711.1,238.84 L713.0,238.94 L715.0,239.03 L716.9,239.13 L718.9,239.24 L720.9,239.34 L723.0,239.45 L725.0,239.55 L727.1,239.66 L729.1,239.78 L731.2,239.89 L733.3,240.00 L735.4,240.12 L737.5,240.24 L739.6,240.36 L741.7,240.49 L743.9,240.61 L746.0,240.74 L748.1,240.87 L750.2,241.00 L752.3,241.13 L754.4,241.26 L756.4,241.40 L758.5,241.53 L760.6,241.67 L762.6,241.81 L764.6,241.95 L766.7,242.10 L768.7,242.24 L770.7,242.39 L772.7,242.54 L774.7,242.68 L776.7,242.84 L778.6,242.99 L780.6,243.14 L782.6,243.30 L784.6,243.46 L786.6,243.62 L788.6,243.78 L790.6,243.94 L792.6,244.11 L794.6,244.27 L796.6,244.44 L798.6,244.61 L800.6,244.78 L802.5,244.96 L804.5,245.13 L806.5,245.31 L808.5,245.49 L810.5,245.67 L812.5,245.85 L814.5,246.03 L816.5,246.22 L818.5,246.41 L820.5,246.60 L822.4,246.79 L824.4,246.98 L826.4,247.17 L828.4,247.36 L830.4,247.56 L832.4,247.75 L834.4,247.95 L836.5,248.15 L838.5,248.34 L840.5,248.54 L842.6,248.74 L844.6,248.94 L846.7,249.14 L848.7,249.34 L850.8,249.54 L852.8,249.75 L854.9,249.95 L856.9,250.16 L859.0,250.37 L861.0,250.58 L863.0,250.80 L865.1,251.02 L867.1,251.24 L869.1,251.46 L871.1,251.69 L873.1,251.92 L875.1,252.16 L877.0,252.40 L879.0,252.64 L880.9,252.89 L882.8,253.14 L884.7,253.41 L886.6,253.67 L888.6,253.95 L890.5,254.24 L892.4,254.54 L894.4,254.86 L896.4,255.19 L898.4,255.54 L900.4,255.90 L902.5,256.28 L904.5,256.66 L906.5,257.06 L908.6,257.47 L910.6,257.88 L912.6,258.29 L914.5,258.72 L916.5,259.14 L918.5,259.57 L920.4,260.00 L922.3,260.43 L924.2,260.87 L926.1,261.30 L928.0,261.74 L929.8,262.18 L931.7,262.62 L933.6,263.06 L935.5,263.51 L937.5,263.96 L939.4,264.42 L941.4,264.89 L943.4,265.36 L945.4,265.83 L947.4,266.31 L949.3,266.79 L951.3,267.28 L953.3,267.76 L955.2,268.25 L957.1,268.75 L959.1,269.25 L961.0,269.76 L962.9,270.28 L964.8,270.81 L966.8,271.34 L968.7,271.89 L970.6,272.45 L972.6,273.02 L974.5,273.60 L976.5,274.19 L978.5,274.79 L980.4,275.39 L982.4,276.00 L984.3,276.63 L986.2,277.26 L988.1,277.90 L990.0,278.54 L991.9,279.20 L993.7,279.88 L995.6,280.56 L997.4,281.27 L999.2,282.00 L1001.0,282.75 L1002.8,283.53 L1004.5,284.33 L1006.3,285.14 L1008.0,285.98 L1009.7,286.84 L1011.4,287.71 L1013.1,288.60 L1014.8,289.51 L1016.5,290.42 L1018.1,291.33 L1019.8,292.24 L1021.5,293.15 L1023.1,294.06 L1024.7,294.96 L1026.4,295.86 L1028.0,296.77 L1029.7,297.69 L1031.4,298.63 L1033.0,299.59 L1034.7,300.57 L1036.3,301.57 L1038.0,302.60 L1039.6,303.66 L1041.2,304.75 L1042.8,305.86 L1044.3,307.00 L1045.8,308.16 L1047.2,309.34 L1048.6,310.55 L1050.0,311.77 L1051.3,313.01 L1052.6,314.27 L1053.8,315.56 L1055.1,316.87 L1056.3,318.20 L1057.5,319.56 L1058.7,320.95 L1059.9,322.36 L1061.0,323.78 L1062.2,325.23 L1063.3,326.70 L1064.4,328.19 L1065.5,329.69 L1066.6,331.21 L1067.7,332.74 L1068.7,334.27 L1069.7,335.81 L1070.7,337.34 L1071.7,338.88 L1072.7,340.42 L1073.6,341.95 L1074.5,343.50 L1075.4,345.06 L1076.2,346.63 L1077.1,348.23 L1077.9,349.84 L1078.7,351.47 L1079.5,353.11 L1080.3,354.77 L1081.1,356.44 L1081.9,358.11 L1082.7,359.79 L1083.4,361.47 L1084.2,363.15 L1084.9,364.81 L1085.6,366.47 L1086.3,368.12 L1087.0,369.75 L1087.7,371.37 L1088.3,372.97 L1089.0,374.55 L1089.6,376.12 L1090.3,377.68 L1090.9,379.24 L1091.6,380.81 L1092.2,382.37 L1092.9,383.94 L1093.5,385.50 L1094.1,387.06 L1094.7,388.60 L1095.3,390.13 L1095.9,391.65 L1096.5,393.18 L1097.0,394.72 L1097.6,396.29 L1098.1,397.89 L1098.7,399.51 L1099.2,401.15 L1099.7,402.80 L1100.2,404.42 L1100.7,406.01 L1101.2,407.54 L1101.6,409.02 L1102.0,410.45 L1102.4,411.86 L1102.8,413.26 L1103.2,414.66 L1103.6,416.08 L1104.0,417.52 L1104.3,418.99 L1104.7,420.49 L1105.1,422.01 L1105.5,423.56 L1105.9,425.14 L1106.3,426.73 L1106.7,428.36 L1107.1,430.00 L1107.5,431.67 L1107.9,433.35 L1108.4,435.05 L1108.8,436.77 L1109.2,438.51 L1109.6,440.26 L1110.0,442.02 L1110.4,443.80 L1110.8,445.59 L1111.2,447.38 L1111.6,449.19 L1112.0,451.01 L1112.4,452.83 L1112.8,454.66 L1113.2,456.49 L1113.6,458.32 L1114.0,460.16 L1114.4,462.00 L1114.8,463.84 L1115.2,465.67 L1115.6,467.51 L1116.0,469.34 L1116.3,471.16 L1116.7,472.98 L1117.1,474.80 L1117.4,476.60 L1117.8,478.40 L1118.1,480.18 L1118.5,481.95 L1118.8,483.71 L1119.2,485.46 L1119.5,487.20 L1119.8,488.93 L1120.1,490.64 L1120.4,492.35 L1120.7,494.05 L1121.0,495.75 L1121.3,497.44 L1121.6,499.13 L1121.9,500.83 L1122.2,502.52 L1122.4,504.21 L1122.7,505.90 L1123.0,507.60 L1123.2,509.29 L1123.5,510.98 L1123.7,512.68 L1124.0,514.37 L1124.2,516.06 L1124.5,517.76 L1124.7,519.45 L1125.0,521.15 L1125.2,522.84 L1125.4,524.54 L1125.6,526.23 L1125.9,527.93 L1126.1,529.62 L1126.3,531.32 L1126.5,533.01 L1126.8,534.71 L1127.0,536.41 L1127.2,538.10 L1127.4,539.80 L1127.6,541.49 L1127.8,543.19 L1128.0,544.89 L1128.2,546.58 L1128.4,548.28 L1128.6,549.98 L1128.8,551.67 L1129.0,553.37 L1129.2,555.07 L1129.4,556.76 L1129.6,558.46 L1129.9,560.16 L1130.1,561.85 L1130.3,563.55 L1130.5,565.25 L1130.7,566.94 L1130.9,568.64 L1131.1,570.34 L1131.3,572.03 L1131.5,573.73 L1131.7,575.43 L1131.9,577.12 L1132.1,578.82 L1132.3,580.52 L1132.5,582.23 L1132.7,583.93 L1132.9,585.64 L1133.1,587.35 L1133.3,589.06 L1133.6,590.77 L1133.8,592.48 L1134.0,594.19 L1134.2,595.91 L1134.4,597.63 L1134.6,599.34 L1134.8,601.06 L1135.0,602.78 L1135.1,604.50 L1135.3,606.22 L1135.5,607.94 L1135.7,609.65 L1135.9,611.37 L1136.1,613.09 L1136.3,614.81 L1136.5,616.52 L1136.7,618.23 L1136.9,619.95 L1137.1,621.66 L1137.3,623.37 L1137.5,625.08 L1137.6,626.78 L1137.8,628.48 L1138.0,630.18 L1138.2,631.88 L1138.4,633.58 L1138.6,635.27 L1138.7,636.96 L1138.9,638.65 L1139.1,640.33 L1139.3,642.01 L1139.5,643.68 L1139.6,645.35 L1139.8,647.02 L1140.0,648.68 L1140.2,650.34 L1140.3,652.00 L1140.5,653.65 L1140.7,655.31 L1140.9,656.97 L1141.0,658.64 L1141.2,660.32 L1141.4,662.01 L1141.6,663.72 L1141.8,665.44 L1141.9,667.16 L1142.1,668.89 L1142.3,670.62 L1142.5,672.35 L1142.6,674.08 L1142.8,675.80 L1143.0,677.52 L1143.2,679.23 L1143.3,680.94 L1143.5,682.64 L1143.7,684.34 L1143.8,686.03 L1144.0,687.73 L1144.2,689.42 L1144.3,691.10 L1144.5,692.79 L1144.7,694.47 L1144.8,696.15 L1145.0,697.83 L1145.1,699.50 L1145.3,701.18 L1145.5,702.85 L1145.6,704.52 L1145.8,706.20 L1145.9,707.87 L1146.1,709.54 L1146.3,711.21 L1146.4,712.88 L1146.6,714.56 L1146.8,716.23 L1146.9,717.90 L1147.1,719.58 L1147.2,721.26 L1147.4,722.94 L1147.6,724.62 L1147.7,726.30 L1147.9,727.99 L1148.1,729.67 L1148.2,731.36"/>
</g>
<path d="M343.5,38.5 L347.5,33.3 L352.5,33.3 L357,39.5 Z" fill="#000" stroke="none"/>
</svg>
</body></html>
